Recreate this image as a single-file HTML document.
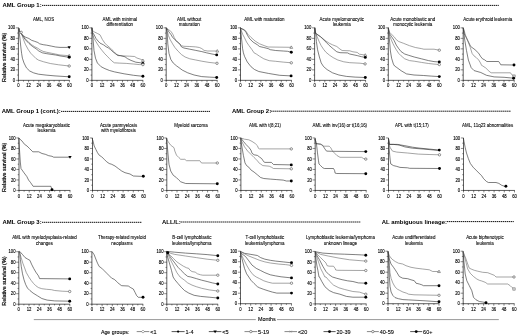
<!DOCTYPE html><html><head><meta charset="utf-8"><style>html,body{margin:0;padding:0;background:#fff;overflow:hidden;}svg{display:block;filter:grayscale(100%);}</style></head><body>
<svg width="520" height="336" viewBox="0 0 520 336" font-family='"Liberation Sans", sans-serif' fill="#000">
<rect width="520" height="336" fill="#fff"/>
<text x="2.5" y="7.3" font-size="5.95" font-weight="bold">AML Group 1:</text>
<line x1="42.0" y1="5.4" x2="498.8" y2="5.4" stroke="#000" stroke-width="0.95" stroke-dasharray="1.4,0.6"/>
<text x="1.8" y="113.4" font-size="5.95" font-weight="bold">AML Group 1 (cont.):</text>
<line x1="61.0" y1="111.4" x2="210.0" y2="111.4" stroke="#000" stroke-width="0.95" stroke-dasharray="1.4,0.6"/>
<text x="232.0" y="113.4" font-size="5.95" font-weight="bold">AML Group 2:</text>
<line x1="270.5" y1="111.2" x2="511.0" y2="111.2" stroke="#000" stroke-width="0.95" stroke-dasharray="1.4,0.6"/>
<text x="2.5" y="223.8" font-size="5.95" font-weight="bold">AML Group 3:</text>
<line x1="42.0" y1="222.3" x2="141.5" y2="222.3" stroke="#000" stroke-width="0.95" stroke-dasharray="1.4,0.6"/>
<text x="162.0" y="224.0" font-size="5.95" font-weight="bold">ALL/L:</text>
<line x1="180.5" y1="222.0" x2="360.8" y2="222.0" stroke="#000" stroke-width="0.95" stroke-dasharray="1.4,0.6"/>
<text x="381.8" y="223.8" font-size="5.95" font-weight="bold">AL ambiguous lineage:</text>
<line x1="447.0" y1="221.6" x2="513.8" y2="221.6" stroke="#000" stroke-width="0.95" stroke-dasharray="1.4,0.6"/>
<text x="43.5" y="20.60" font-size="4.45" text-anchor="middle" stroke="#000" stroke-width="0.08">AML, NOS</text>
<text x="119.8" y="20.60" font-size="4.45" text-anchor="middle" stroke="#000" stroke-width="0.08">AML with minimal</text>
<text x="119.8" y="25.90" font-size="4.45" text-anchor="middle" stroke="#000" stroke-width="0.08">differentiation</text>
<text x="189.2" y="20.60" font-size="4.45" text-anchor="middle" stroke="#000" stroke-width="0.08">AML without</text>
<text x="189.2" y="25.90" font-size="4.45" text-anchor="middle" stroke="#000" stroke-width="0.08">maturation</text>
<text x="264.4" y="20.60" font-size="4.45" text-anchor="middle" stroke="#000" stroke-width="0.08">AML with maturation</text>
<text x="341.8" y="20.60" font-size="4.45" text-anchor="middle" stroke="#000" stroke-width="0.08">Acute myelomonocytic</text>
<text x="341.8" y="25.90" font-size="4.45" text-anchor="middle" stroke="#000" stroke-width="0.08">leukemia</text>
<text x="412.8" y="20.60" font-size="4.45" text-anchor="middle" stroke="#000" stroke-width="0.08">Acute monoblastic and</text>
<text x="412.8" y="25.90" font-size="4.45" text-anchor="middle" stroke="#000" stroke-width="0.08">monocytic leukemia</text>
<text x="487.7" y="20.60" font-size="4.45" text-anchor="middle" stroke="#000" stroke-width="0.08">Acute erythroid leukemia</text>
<text x="46.5" y="126.60" font-size="4.45" text-anchor="middle" stroke="#000" stroke-width="0.08">Acute megakaryoblastic</text>
<text x="46.5" y="131.90" font-size="4.45" text-anchor="middle" stroke="#000" stroke-width="0.08">leukemia</text>
<text x="118.5" y="126.60" font-size="4.45" text-anchor="middle" stroke="#000" stroke-width="0.08">Acute panmyelosis</text>
<text x="118.5" y="131.90" font-size="4.45" text-anchor="middle" stroke="#000" stroke-width="0.08">with myelofibrosis</text>
<text x="190.9" y="126.60" font-size="4.45" text-anchor="middle" stroke="#000" stroke-width="0.08">Myeloid sarcoma</text>
<text x="265" y="126.60" font-size="4.45" text-anchor="middle" stroke="#000" stroke-width="0.08">AML with t(8;21)</text>
<text x="339.8" y="126.60" font-size="4.45" text-anchor="middle" stroke="#000" stroke-width="0.08">AML with inv(16) or t(16;16)</text>
<text x="411.9" y="126.60" font-size="4.45" text-anchor="middle" stroke="#000" stroke-width="0.08">APL with t(15;17)</text>
<text x="487.6" y="126.60" font-size="4.45" text-anchor="middle" stroke="#000" stroke-width="0.08">AML, 11q23 abnormalities</text>
<text x="44.5" y="239.20" font-size="4.45" text-anchor="middle" stroke="#000" stroke-width="0.08">AML with myelodysplasia-related</text>
<text x="44.5" y="244.50" font-size="4.45" text-anchor="middle" stroke="#000" stroke-width="0.08">changes</text>
<text x="122" y="239.20" font-size="4.45" text-anchor="middle" stroke="#000" stroke-width="0.08">Therapy-related myeloid</text>
<text x="122" y="244.50" font-size="4.45" text-anchor="middle" stroke="#000" stroke-width="0.08">neoplasms</text>
<text x="191.8" y="239.20" font-size="4.45" text-anchor="middle" stroke="#000" stroke-width="0.08">B-cell lymphoblastic</text>
<text x="191.8" y="244.50" font-size="4.45" text-anchor="middle" stroke="#000" stroke-width="0.08">leukemia/lymphoma</text>
<text x="264.8" y="239.20" font-size="4.45" text-anchor="middle" stroke="#000" stroke-width="0.08">T-cell lymphoblastic</text>
<text x="264.8" y="244.50" font-size="4.45" text-anchor="middle" stroke="#000" stroke-width="0.08">leukemia/lymphoma</text>
<text x="340.5" y="239.20" font-size="4.45" text-anchor="middle" stroke="#000" stroke-width="0.08">Lymphoblastic leukemia/lymphoma</text>
<text x="340.5" y="244.50" font-size="4.45" text-anchor="middle" stroke="#000" stroke-width="0.08">unknown lineage</text>
<text x="413.9" y="239.20" font-size="4.45" text-anchor="middle" stroke="#000" stroke-width="0.08">Acute undifferentiated</text>
<text x="413.9" y="244.50" font-size="4.45" text-anchor="middle" stroke="#000" stroke-width="0.08">leukemia</text>
<text x="484.9" y="239.20" font-size="4.45" text-anchor="middle" stroke="#000" stroke-width="0.08">Acute biphenotypic</text>
<text x="484.9" y="244.50" font-size="4.45" text-anchor="middle" stroke="#000" stroke-width="0.08">leukemia</text>
<text transform="translate(5.7,57.3) rotate(-90) scale(0.95,1)" font-size="5.7" text-anchor="middle" stroke="#000" stroke-width="0.2">Relative survival (%)</text>
<text transform="translate(5.7,167.3) rotate(-90) scale(0.95,1)" font-size="5.7" text-anchor="middle" stroke="#000" stroke-width="0.2">Relative survival (%)</text>
<text transform="translate(5.7,281.1) rotate(-90) scale(0.95,1)" font-size="5.7" text-anchor="middle" stroke="#000" stroke-width="0.2">Relative survival (%)</text>
<line x1="18.40" y1="27.85" x2="18.40" y2="80.85" stroke="#1a1a1a" stroke-width="0.7"/>
<line x1="18.10" y1="80.35" x2="69.70" y2="80.35" stroke="#1a1a1a" stroke-width="0.7"/>
<line x1="15.80" y1="80.35" x2="18.40" y2="80.35" stroke="#1a1a1a" stroke-width="0.5"/>
<text transform="translate(15.10,81.95) scale(0.9,1)" font-size="4.7" text-anchor="end" stroke="#000" stroke-width="0.12">0</text>
<line x1="17.10" y1="75.10" x2="18.40" y2="75.10" stroke="#1a1a1a" stroke-width="0.5"/>
<line x1="15.80" y1="69.85" x2="18.40" y2="69.85" stroke="#1a1a1a" stroke-width="0.5"/>
<text transform="translate(15.10,71.45) scale(0.9,1)" font-size="4.7" text-anchor="end" stroke="#000" stroke-width="0.12">20</text>
<line x1="17.10" y1="64.60" x2="18.40" y2="64.60" stroke="#1a1a1a" stroke-width="0.5"/>
<line x1="15.80" y1="59.35" x2="18.40" y2="59.35" stroke="#1a1a1a" stroke-width="0.5"/>
<text transform="translate(15.10,60.95) scale(0.9,1)" font-size="4.7" text-anchor="end" stroke="#000" stroke-width="0.12">40</text>
<line x1="17.10" y1="54.10" x2="18.40" y2="54.10" stroke="#1a1a1a" stroke-width="0.5"/>
<line x1="15.80" y1="48.85" x2="18.40" y2="48.85" stroke="#1a1a1a" stroke-width="0.5"/>
<text transform="translate(15.10,50.45) scale(0.9,1)" font-size="4.7" text-anchor="end" stroke="#000" stroke-width="0.12">60</text>
<line x1="17.10" y1="43.60" x2="18.40" y2="43.60" stroke="#1a1a1a" stroke-width="0.5"/>
<line x1="15.80" y1="38.35" x2="18.40" y2="38.35" stroke="#1a1a1a" stroke-width="0.5"/>
<text transform="translate(15.10,39.95) scale(0.9,1)" font-size="4.7" text-anchor="end" stroke="#000" stroke-width="0.12">80</text>
<line x1="17.10" y1="33.10" x2="18.40" y2="33.10" stroke="#1a1a1a" stroke-width="0.5"/>
<line x1="15.80" y1="27.85" x2="18.40" y2="27.85" stroke="#1a1a1a" stroke-width="0.5"/>
<text transform="translate(15.10,29.45) scale(0.9,1)" font-size="4.7" text-anchor="end" stroke="#000" stroke-width="0.12">100</text>
<line x1="18.40" y1="80.35" x2="18.40" y2="82.35" stroke="#1a1a1a" stroke-width="0.55"/>
<text transform="translate(18.40,87.45) scale(0.9,1)" font-size="4.7" text-anchor="middle" stroke="#000" stroke-width="0.12">0</text>
<line x1="23.50" y1="80.35" x2="23.50" y2="81.55" stroke="#1a1a1a" stroke-width="0.55"/>
<line x1="28.60" y1="80.35" x2="28.60" y2="82.35" stroke="#1a1a1a" stroke-width="0.55"/>
<text transform="translate(28.60,87.45) scale(0.9,1)" font-size="4.7" text-anchor="middle" stroke="#000" stroke-width="0.12">12</text>
<line x1="33.70" y1="80.35" x2="33.70" y2="81.55" stroke="#1a1a1a" stroke-width="0.55"/>
<line x1="38.80" y1="80.35" x2="38.80" y2="82.35" stroke="#1a1a1a" stroke-width="0.55"/>
<text transform="translate(38.80,87.45) scale(0.9,1)" font-size="4.7" text-anchor="middle" stroke="#000" stroke-width="0.12">24</text>
<line x1="43.90" y1="80.35" x2="43.90" y2="81.55" stroke="#1a1a1a" stroke-width="0.55"/>
<line x1="49.00" y1="80.35" x2="49.00" y2="82.35" stroke="#1a1a1a" stroke-width="0.55"/>
<text transform="translate(49.00,87.45) scale(0.9,1)" font-size="4.7" text-anchor="middle" stroke="#000" stroke-width="0.12">36</text>
<line x1="54.10" y1="80.35" x2="54.10" y2="81.55" stroke="#1a1a1a" stroke-width="0.55"/>
<line x1="59.20" y1="80.35" x2="59.20" y2="82.35" stroke="#1a1a1a" stroke-width="0.55"/>
<text transform="translate(59.20,87.45) scale(0.9,1)" font-size="4.7" text-anchor="middle" stroke="#000" stroke-width="0.12">48</text>
<line x1="64.30" y1="80.35" x2="64.30" y2="81.55" stroke="#1a1a1a" stroke-width="0.55"/>
<line x1="69.40" y1="80.35" x2="69.40" y2="82.35" stroke="#1a1a1a" stroke-width="0.55"/>
<text transform="translate(69.40,87.45) scale(0.9,1)" font-size="4.7" text-anchor="middle" stroke="#000" stroke-width="0.12">60</text>
<line x1="91.90" y1="27.85" x2="91.90" y2="80.85" stroke="#1a1a1a" stroke-width="0.7"/>
<line x1="91.60" y1="80.35" x2="143.20" y2="80.35" stroke="#1a1a1a" stroke-width="0.7"/>
<line x1="89.30" y1="80.35" x2="91.90" y2="80.35" stroke="#1a1a1a" stroke-width="0.5"/>
<text transform="translate(88.60,81.95) scale(0.9,1)" font-size="4.7" text-anchor="end" stroke="#000" stroke-width="0.12">0</text>
<line x1="90.60" y1="75.10" x2="91.90" y2="75.10" stroke="#1a1a1a" stroke-width="0.5"/>
<line x1="89.30" y1="69.85" x2="91.90" y2="69.85" stroke="#1a1a1a" stroke-width="0.5"/>
<text transform="translate(88.60,71.45) scale(0.9,1)" font-size="4.7" text-anchor="end" stroke="#000" stroke-width="0.12">20</text>
<line x1="90.60" y1="64.60" x2="91.90" y2="64.60" stroke="#1a1a1a" stroke-width="0.5"/>
<line x1="89.30" y1="59.35" x2="91.90" y2="59.35" stroke="#1a1a1a" stroke-width="0.5"/>
<text transform="translate(88.60,60.95) scale(0.9,1)" font-size="4.7" text-anchor="end" stroke="#000" stroke-width="0.12">40</text>
<line x1="90.60" y1="54.10" x2="91.90" y2="54.10" stroke="#1a1a1a" stroke-width="0.5"/>
<line x1="89.30" y1="48.85" x2="91.90" y2="48.85" stroke="#1a1a1a" stroke-width="0.5"/>
<text transform="translate(88.60,50.45) scale(0.9,1)" font-size="4.7" text-anchor="end" stroke="#000" stroke-width="0.12">60</text>
<line x1="90.60" y1="43.60" x2="91.90" y2="43.60" stroke="#1a1a1a" stroke-width="0.5"/>
<line x1="89.30" y1="38.35" x2="91.90" y2="38.35" stroke="#1a1a1a" stroke-width="0.5"/>
<text transform="translate(88.60,39.95) scale(0.9,1)" font-size="4.7" text-anchor="end" stroke="#000" stroke-width="0.12">80</text>
<line x1="90.60" y1="33.10" x2="91.90" y2="33.10" stroke="#1a1a1a" stroke-width="0.5"/>
<line x1="89.30" y1="27.85" x2="91.90" y2="27.85" stroke="#1a1a1a" stroke-width="0.5"/>
<text transform="translate(88.60,29.45) scale(0.9,1)" font-size="4.7" text-anchor="end" stroke="#000" stroke-width="0.12">100</text>
<line x1="91.90" y1="80.35" x2="91.90" y2="82.35" stroke="#1a1a1a" stroke-width="0.55"/>
<text transform="translate(91.90,87.45) scale(0.9,1)" font-size="4.7" text-anchor="middle" stroke="#000" stroke-width="0.12">0</text>
<line x1="97.00" y1="80.35" x2="97.00" y2="81.55" stroke="#1a1a1a" stroke-width="0.55"/>
<line x1="102.10" y1="80.35" x2="102.10" y2="82.35" stroke="#1a1a1a" stroke-width="0.55"/>
<text transform="translate(102.10,87.45) scale(0.9,1)" font-size="4.7" text-anchor="middle" stroke="#000" stroke-width="0.12">12</text>
<line x1="107.20" y1="80.35" x2="107.20" y2="81.55" stroke="#1a1a1a" stroke-width="0.55"/>
<line x1="112.30" y1="80.35" x2="112.30" y2="82.35" stroke="#1a1a1a" stroke-width="0.55"/>
<text transform="translate(112.30,87.45) scale(0.9,1)" font-size="4.7" text-anchor="middle" stroke="#000" stroke-width="0.12">24</text>
<line x1="117.40" y1="80.35" x2="117.40" y2="81.55" stroke="#1a1a1a" stroke-width="0.55"/>
<line x1="122.50" y1="80.35" x2="122.50" y2="82.35" stroke="#1a1a1a" stroke-width="0.55"/>
<text transform="translate(122.50,87.45) scale(0.9,1)" font-size="4.7" text-anchor="middle" stroke="#000" stroke-width="0.12">36</text>
<line x1="127.60" y1="80.35" x2="127.60" y2="81.55" stroke="#1a1a1a" stroke-width="0.55"/>
<line x1="132.70" y1="80.35" x2="132.70" y2="82.35" stroke="#1a1a1a" stroke-width="0.55"/>
<text transform="translate(132.70,87.45) scale(0.9,1)" font-size="4.7" text-anchor="middle" stroke="#000" stroke-width="0.12">48</text>
<line x1="137.80" y1="80.35" x2="137.80" y2="81.55" stroke="#1a1a1a" stroke-width="0.55"/>
<line x1="142.90" y1="80.35" x2="142.90" y2="82.35" stroke="#1a1a1a" stroke-width="0.55"/>
<text transform="translate(142.90,87.45) scale(0.9,1)" font-size="4.7" text-anchor="middle" stroke="#000" stroke-width="0.12">60</text>
<line x1="166.20" y1="27.85" x2="166.20" y2="80.85" stroke="#1a1a1a" stroke-width="0.7"/>
<line x1="165.90" y1="80.35" x2="217.50" y2="80.35" stroke="#1a1a1a" stroke-width="0.7"/>
<line x1="163.60" y1="80.35" x2="166.20" y2="80.35" stroke="#1a1a1a" stroke-width="0.5"/>
<text transform="translate(162.90,81.95) scale(0.9,1)" font-size="4.7" text-anchor="end" stroke="#000" stroke-width="0.12">0</text>
<line x1="164.90" y1="75.10" x2="166.20" y2="75.10" stroke="#1a1a1a" stroke-width="0.5"/>
<line x1="163.60" y1="69.85" x2="166.20" y2="69.85" stroke="#1a1a1a" stroke-width="0.5"/>
<text transform="translate(162.90,71.45) scale(0.9,1)" font-size="4.7" text-anchor="end" stroke="#000" stroke-width="0.12">20</text>
<line x1="164.90" y1="64.60" x2="166.20" y2="64.60" stroke="#1a1a1a" stroke-width="0.5"/>
<line x1="163.60" y1="59.35" x2="166.20" y2="59.35" stroke="#1a1a1a" stroke-width="0.5"/>
<text transform="translate(162.90,60.95) scale(0.9,1)" font-size="4.7" text-anchor="end" stroke="#000" stroke-width="0.12">40</text>
<line x1="164.90" y1="54.10" x2="166.20" y2="54.10" stroke="#1a1a1a" stroke-width="0.5"/>
<line x1="163.60" y1="48.85" x2="166.20" y2="48.85" stroke="#1a1a1a" stroke-width="0.5"/>
<text transform="translate(162.90,50.45) scale(0.9,1)" font-size="4.7" text-anchor="end" stroke="#000" stroke-width="0.12">60</text>
<line x1="164.90" y1="43.60" x2="166.20" y2="43.60" stroke="#1a1a1a" stroke-width="0.5"/>
<line x1="163.60" y1="38.35" x2="166.20" y2="38.35" stroke="#1a1a1a" stroke-width="0.5"/>
<text transform="translate(162.90,39.95) scale(0.9,1)" font-size="4.7" text-anchor="end" stroke="#000" stroke-width="0.12">80</text>
<line x1="164.90" y1="33.10" x2="166.20" y2="33.10" stroke="#1a1a1a" stroke-width="0.5"/>
<line x1="163.60" y1="27.85" x2="166.20" y2="27.85" stroke="#1a1a1a" stroke-width="0.5"/>
<text transform="translate(162.90,29.45) scale(0.9,1)" font-size="4.7" text-anchor="end" stroke="#000" stroke-width="0.12">100</text>
<line x1="166.20" y1="80.35" x2="166.20" y2="82.35" stroke="#1a1a1a" stroke-width="0.55"/>
<text transform="translate(166.20,87.45) scale(0.9,1)" font-size="4.7" text-anchor="middle" stroke="#000" stroke-width="0.12">0</text>
<line x1="171.30" y1="80.35" x2="171.30" y2="81.55" stroke="#1a1a1a" stroke-width="0.55"/>
<line x1="176.40" y1="80.35" x2="176.40" y2="82.35" stroke="#1a1a1a" stroke-width="0.55"/>
<text transform="translate(176.40,87.45) scale(0.9,1)" font-size="4.7" text-anchor="middle" stroke="#000" stroke-width="0.12">12</text>
<line x1="181.50" y1="80.35" x2="181.50" y2="81.55" stroke="#1a1a1a" stroke-width="0.55"/>
<line x1="186.60" y1="80.35" x2="186.60" y2="82.35" stroke="#1a1a1a" stroke-width="0.55"/>
<text transform="translate(186.60,87.45) scale(0.9,1)" font-size="4.7" text-anchor="middle" stroke="#000" stroke-width="0.12">24</text>
<line x1="191.70" y1="80.35" x2="191.70" y2="81.55" stroke="#1a1a1a" stroke-width="0.55"/>
<line x1="196.80" y1="80.35" x2="196.80" y2="82.35" stroke="#1a1a1a" stroke-width="0.55"/>
<text transform="translate(196.80,87.45) scale(0.9,1)" font-size="4.7" text-anchor="middle" stroke="#000" stroke-width="0.12">36</text>
<line x1="201.90" y1="80.35" x2="201.90" y2="81.55" stroke="#1a1a1a" stroke-width="0.55"/>
<line x1="207.00" y1="80.35" x2="207.00" y2="82.35" stroke="#1a1a1a" stroke-width="0.55"/>
<text transform="translate(207.00,87.45) scale(0.9,1)" font-size="4.7" text-anchor="middle" stroke="#000" stroke-width="0.12">48</text>
<line x1="212.10" y1="80.35" x2="212.10" y2="81.55" stroke="#1a1a1a" stroke-width="0.55"/>
<line x1="217.20" y1="80.35" x2="217.20" y2="82.35" stroke="#1a1a1a" stroke-width="0.55"/>
<text transform="translate(217.20,87.45) scale(0.9,1)" font-size="4.7" text-anchor="middle" stroke="#000" stroke-width="0.12">60</text>
<line x1="240.50" y1="27.85" x2="240.50" y2="80.85" stroke="#1a1a1a" stroke-width="0.7"/>
<line x1="240.20" y1="80.35" x2="291.80" y2="80.35" stroke="#1a1a1a" stroke-width="0.7"/>
<line x1="237.90" y1="80.35" x2="240.50" y2="80.35" stroke="#1a1a1a" stroke-width="0.5"/>
<text transform="translate(237.20,81.95) scale(0.9,1)" font-size="4.7" text-anchor="end" stroke="#000" stroke-width="0.12">0</text>
<line x1="239.20" y1="75.10" x2="240.50" y2="75.10" stroke="#1a1a1a" stroke-width="0.5"/>
<line x1="237.90" y1="69.85" x2="240.50" y2="69.85" stroke="#1a1a1a" stroke-width="0.5"/>
<text transform="translate(237.20,71.45) scale(0.9,1)" font-size="4.7" text-anchor="end" stroke="#000" stroke-width="0.12">20</text>
<line x1="239.20" y1="64.60" x2="240.50" y2="64.60" stroke="#1a1a1a" stroke-width="0.5"/>
<line x1="237.90" y1="59.35" x2="240.50" y2="59.35" stroke="#1a1a1a" stroke-width="0.5"/>
<text transform="translate(237.20,60.95) scale(0.9,1)" font-size="4.7" text-anchor="end" stroke="#000" stroke-width="0.12">40</text>
<line x1="239.20" y1="54.10" x2="240.50" y2="54.10" stroke="#1a1a1a" stroke-width="0.5"/>
<line x1="237.90" y1="48.85" x2="240.50" y2="48.85" stroke="#1a1a1a" stroke-width="0.5"/>
<text transform="translate(237.20,50.45) scale(0.9,1)" font-size="4.7" text-anchor="end" stroke="#000" stroke-width="0.12">60</text>
<line x1="239.20" y1="43.60" x2="240.50" y2="43.60" stroke="#1a1a1a" stroke-width="0.5"/>
<line x1="237.90" y1="38.35" x2="240.50" y2="38.35" stroke="#1a1a1a" stroke-width="0.5"/>
<text transform="translate(237.20,39.95) scale(0.9,1)" font-size="4.7" text-anchor="end" stroke="#000" stroke-width="0.12">80</text>
<line x1="239.20" y1="33.10" x2="240.50" y2="33.10" stroke="#1a1a1a" stroke-width="0.5"/>
<line x1="237.90" y1="27.85" x2="240.50" y2="27.85" stroke="#1a1a1a" stroke-width="0.5"/>
<text transform="translate(237.20,29.45) scale(0.9,1)" font-size="4.7" text-anchor="end" stroke="#000" stroke-width="0.12">100</text>
<line x1="240.50" y1="80.35" x2="240.50" y2="82.35" stroke="#1a1a1a" stroke-width="0.55"/>
<text transform="translate(240.50,87.45) scale(0.9,1)" font-size="4.7" text-anchor="middle" stroke="#000" stroke-width="0.12">0</text>
<line x1="245.60" y1="80.35" x2="245.60" y2="81.55" stroke="#1a1a1a" stroke-width="0.55"/>
<line x1="250.70" y1="80.35" x2="250.70" y2="82.35" stroke="#1a1a1a" stroke-width="0.55"/>
<text transform="translate(250.70,87.45) scale(0.9,1)" font-size="4.7" text-anchor="middle" stroke="#000" stroke-width="0.12">12</text>
<line x1="255.80" y1="80.35" x2="255.80" y2="81.55" stroke="#1a1a1a" stroke-width="0.55"/>
<line x1="260.90" y1="80.35" x2="260.90" y2="82.35" stroke="#1a1a1a" stroke-width="0.55"/>
<text transform="translate(260.90,87.45) scale(0.9,1)" font-size="4.7" text-anchor="middle" stroke="#000" stroke-width="0.12">24</text>
<line x1="266.00" y1="80.35" x2="266.00" y2="81.55" stroke="#1a1a1a" stroke-width="0.55"/>
<line x1="271.10" y1="80.35" x2="271.10" y2="82.35" stroke="#1a1a1a" stroke-width="0.55"/>
<text transform="translate(271.10,87.45) scale(0.9,1)" font-size="4.7" text-anchor="middle" stroke="#000" stroke-width="0.12">36</text>
<line x1="276.20" y1="80.35" x2="276.20" y2="81.55" stroke="#1a1a1a" stroke-width="0.55"/>
<line x1="281.30" y1="80.35" x2="281.30" y2="82.35" stroke="#1a1a1a" stroke-width="0.55"/>
<text transform="translate(281.30,87.45) scale(0.9,1)" font-size="4.7" text-anchor="middle" stroke="#000" stroke-width="0.12">48</text>
<line x1="286.40" y1="80.35" x2="286.40" y2="81.55" stroke="#1a1a1a" stroke-width="0.55"/>
<line x1="291.50" y1="80.35" x2="291.50" y2="82.35" stroke="#1a1a1a" stroke-width="0.55"/>
<text transform="translate(291.50,87.45) scale(0.9,1)" font-size="4.7" text-anchor="middle" stroke="#000" stroke-width="0.12">60</text>
<line x1="314.60" y1="27.85" x2="314.60" y2="80.85" stroke="#1a1a1a" stroke-width="0.7"/>
<line x1="314.30" y1="80.35" x2="365.90" y2="80.35" stroke="#1a1a1a" stroke-width="0.7"/>
<line x1="312.00" y1="80.35" x2="314.60" y2="80.35" stroke="#1a1a1a" stroke-width="0.5"/>
<text transform="translate(311.30,81.95) scale(0.9,1)" font-size="4.7" text-anchor="end" stroke="#000" stroke-width="0.12">0</text>
<line x1="313.30" y1="75.10" x2="314.60" y2="75.10" stroke="#1a1a1a" stroke-width="0.5"/>
<line x1="312.00" y1="69.85" x2="314.60" y2="69.85" stroke="#1a1a1a" stroke-width="0.5"/>
<text transform="translate(311.30,71.45) scale(0.9,1)" font-size="4.7" text-anchor="end" stroke="#000" stroke-width="0.12">20</text>
<line x1="313.30" y1="64.60" x2="314.60" y2="64.60" stroke="#1a1a1a" stroke-width="0.5"/>
<line x1="312.00" y1="59.35" x2="314.60" y2="59.35" stroke="#1a1a1a" stroke-width="0.5"/>
<text transform="translate(311.30,60.95) scale(0.9,1)" font-size="4.7" text-anchor="end" stroke="#000" stroke-width="0.12">40</text>
<line x1="313.30" y1="54.10" x2="314.60" y2="54.10" stroke="#1a1a1a" stroke-width="0.5"/>
<line x1="312.00" y1="48.85" x2="314.60" y2="48.85" stroke="#1a1a1a" stroke-width="0.5"/>
<text transform="translate(311.30,50.45) scale(0.9,1)" font-size="4.7" text-anchor="end" stroke="#000" stroke-width="0.12">60</text>
<line x1="313.30" y1="43.60" x2="314.60" y2="43.60" stroke="#1a1a1a" stroke-width="0.5"/>
<line x1="312.00" y1="38.35" x2="314.60" y2="38.35" stroke="#1a1a1a" stroke-width="0.5"/>
<text transform="translate(311.30,39.95) scale(0.9,1)" font-size="4.7" text-anchor="end" stroke="#000" stroke-width="0.12">80</text>
<line x1="313.30" y1="33.10" x2="314.60" y2="33.10" stroke="#1a1a1a" stroke-width="0.5"/>
<line x1="312.00" y1="27.85" x2="314.60" y2="27.85" stroke="#1a1a1a" stroke-width="0.5"/>
<text transform="translate(311.30,29.45) scale(0.9,1)" font-size="4.7" text-anchor="end" stroke="#000" stroke-width="0.12">100</text>
<line x1="314.60" y1="80.35" x2="314.60" y2="82.35" stroke="#1a1a1a" stroke-width="0.55"/>
<text transform="translate(314.60,87.45) scale(0.9,1)" font-size="4.7" text-anchor="middle" stroke="#000" stroke-width="0.12">0</text>
<line x1="319.70" y1="80.35" x2="319.70" y2="81.55" stroke="#1a1a1a" stroke-width="0.55"/>
<line x1="324.80" y1="80.35" x2="324.80" y2="82.35" stroke="#1a1a1a" stroke-width="0.55"/>
<text transform="translate(324.80,87.45) scale(0.9,1)" font-size="4.7" text-anchor="middle" stroke="#000" stroke-width="0.12">12</text>
<line x1="329.90" y1="80.35" x2="329.90" y2="81.55" stroke="#1a1a1a" stroke-width="0.55"/>
<line x1="335.00" y1="80.35" x2="335.00" y2="82.35" stroke="#1a1a1a" stroke-width="0.55"/>
<text transform="translate(335.00,87.45) scale(0.9,1)" font-size="4.7" text-anchor="middle" stroke="#000" stroke-width="0.12">24</text>
<line x1="340.10" y1="80.35" x2="340.10" y2="81.55" stroke="#1a1a1a" stroke-width="0.55"/>
<line x1="345.20" y1="80.35" x2="345.20" y2="82.35" stroke="#1a1a1a" stroke-width="0.55"/>
<text transform="translate(345.20,87.45) scale(0.9,1)" font-size="4.7" text-anchor="middle" stroke="#000" stroke-width="0.12">36</text>
<line x1="350.30" y1="80.35" x2="350.30" y2="81.55" stroke="#1a1a1a" stroke-width="0.55"/>
<line x1="355.40" y1="80.35" x2="355.40" y2="82.35" stroke="#1a1a1a" stroke-width="0.55"/>
<text transform="translate(355.40,87.45) scale(0.9,1)" font-size="4.7" text-anchor="middle" stroke="#000" stroke-width="0.12">48</text>
<line x1="360.50" y1="80.35" x2="360.50" y2="81.55" stroke="#1a1a1a" stroke-width="0.55"/>
<line x1="365.60" y1="80.35" x2="365.60" y2="82.35" stroke="#1a1a1a" stroke-width="0.55"/>
<text transform="translate(365.60,87.45) scale(0.9,1)" font-size="4.7" text-anchor="middle" stroke="#000" stroke-width="0.12">60</text>
<line x1="388.30" y1="27.85" x2="388.30" y2="80.85" stroke="#1a1a1a" stroke-width="0.7"/>
<line x1="388.00" y1="80.35" x2="439.60" y2="80.35" stroke="#1a1a1a" stroke-width="0.7"/>
<line x1="385.70" y1="80.35" x2="388.30" y2="80.35" stroke="#1a1a1a" stroke-width="0.5"/>
<text transform="translate(385.00,81.95) scale(0.9,1)" font-size="4.7" text-anchor="end" stroke="#000" stroke-width="0.12">0</text>
<line x1="387.00" y1="75.10" x2="388.30" y2="75.10" stroke="#1a1a1a" stroke-width="0.5"/>
<line x1="385.70" y1="69.85" x2="388.30" y2="69.85" stroke="#1a1a1a" stroke-width="0.5"/>
<text transform="translate(385.00,71.45) scale(0.9,1)" font-size="4.7" text-anchor="end" stroke="#000" stroke-width="0.12">20</text>
<line x1="387.00" y1="64.60" x2="388.30" y2="64.60" stroke="#1a1a1a" stroke-width="0.5"/>
<line x1="385.70" y1="59.35" x2="388.30" y2="59.35" stroke="#1a1a1a" stroke-width="0.5"/>
<text transform="translate(385.00,60.95) scale(0.9,1)" font-size="4.7" text-anchor="end" stroke="#000" stroke-width="0.12">40</text>
<line x1="387.00" y1="54.10" x2="388.30" y2="54.10" stroke="#1a1a1a" stroke-width="0.5"/>
<line x1="385.70" y1="48.85" x2="388.30" y2="48.85" stroke="#1a1a1a" stroke-width="0.5"/>
<text transform="translate(385.00,50.45) scale(0.9,1)" font-size="4.7" text-anchor="end" stroke="#000" stroke-width="0.12">60</text>
<line x1="387.00" y1="43.60" x2="388.30" y2="43.60" stroke="#1a1a1a" stroke-width="0.5"/>
<line x1="385.70" y1="38.35" x2="388.30" y2="38.35" stroke="#1a1a1a" stroke-width="0.5"/>
<text transform="translate(385.00,39.95) scale(0.9,1)" font-size="4.7" text-anchor="end" stroke="#000" stroke-width="0.12">80</text>
<line x1="387.00" y1="33.10" x2="388.30" y2="33.10" stroke="#1a1a1a" stroke-width="0.5"/>
<line x1="385.70" y1="27.85" x2="388.30" y2="27.85" stroke="#1a1a1a" stroke-width="0.5"/>
<text transform="translate(385.00,29.45) scale(0.9,1)" font-size="4.7" text-anchor="end" stroke="#000" stroke-width="0.12">100</text>
<line x1="388.30" y1="80.35" x2="388.30" y2="82.35" stroke="#1a1a1a" stroke-width="0.55"/>
<text transform="translate(388.30,87.45) scale(0.9,1)" font-size="4.7" text-anchor="middle" stroke="#000" stroke-width="0.12">0</text>
<line x1="393.40" y1="80.35" x2="393.40" y2="81.55" stroke="#1a1a1a" stroke-width="0.55"/>
<line x1="398.50" y1="80.35" x2="398.50" y2="82.35" stroke="#1a1a1a" stroke-width="0.55"/>
<text transform="translate(398.50,87.45) scale(0.9,1)" font-size="4.7" text-anchor="middle" stroke="#000" stroke-width="0.12">12</text>
<line x1="403.60" y1="80.35" x2="403.60" y2="81.55" stroke="#1a1a1a" stroke-width="0.55"/>
<line x1="408.70" y1="80.35" x2="408.70" y2="82.35" stroke="#1a1a1a" stroke-width="0.55"/>
<text transform="translate(408.70,87.45) scale(0.9,1)" font-size="4.7" text-anchor="middle" stroke="#000" stroke-width="0.12">24</text>
<line x1="413.80" y1="80.35" x2="413.80" y2="81.55" stroke="#1a1a1a" stroke-width="0.55"/>
<line x1="418.90" y1="80.35" x2="418.90" y2="82.35" stroke="#1a1a1a" stroke-width="0.55"/>
<text transform="translate(418.90,87.45) scale(0.9,1)" font-size="4.7" text-anchor="middle" stroke="#000" stroke-width="0.12">36</text>
<line x1="424.00" y1="80.35" x2="424.00" y2="81.55" stroke="#1a1a1a" stroke-width="0.55"/>
<line x1="429.10" y1="80.35" x2="429.10" y2="82.35" stroke="#1a1a1a" stroke-width="0.55"/>
<text transform="translate(429.10,87.45) scale(0.9,1)" font-size="4.7" text-anchor="middle" stroke="#000" stroke-width="0.12">48</text>
<line x1="434.20" y1="80.35" x2="434.20" y2="81.55" stroke="#1a1a1a" stroke-width="0.55"/>
<line x1="439.30" y1="80.35" x2="439.30" y2="82.35" stroke="#1a1a1a" stroke-width="0.55"/>
<text transform="translate(439.30,87.45) scale(0.9,1)" font-size="4.7" text-anchor="middle" stroke="#000" stroke-width="0.12">60</text>
<line x1="463.20" y1="27.85" x2="463.20" y2="80.85" stroke="#1a1a1a" stroke-width="0.7"/>
<line x1="462.90" y1="80.35" x2="514.50" y2="80.35" stroke="#1a1a1a" stroke-width="0.7"/>
<line x1="460.60" y1="80.35" x2="463.20" y2="80.35" stroke="#1a1a1a" stroke-width="0.5"/>
<text transform="translate(459.90,81.95) scale(0.9,1)" font-size="4.7" text-anchor="end" stroke="#000" stroke-width="0.12">0</text>
<line x1="461.90" y1="75.10" x2="463.20" y2="75.10" stroke="#1a1a1a" stroke-width="0.5"/>
<line x1="460.60" y1="69.85" x2="463.20" y2="69.85" stroke="#1a1a1a" stroke-width="0.5"/>
<text transform="translate(459.90,71.45) scale(0.9,1)" font-size="4.7" text-anchor="end" stroke="#000" stroke-width="0.12">20</text>
<line x1="461.90" y1="64.60" x2="463.20" y2="64.60" stroke="#1a1a1a" stroke-width="0.5"/>
<line x1="460.60" y1="59.35" x2="463.20" y2="59.35" stroke="#1a1a1a" stroke-width="0.5"/>
<text transform="translate(459.90,60.95) scale(0.9,1)" font-size="4.7" text-anchor="end" stroke="#000" stroke-width="0.12">40</text>
<line x1="461.90" y1="54.10" x2="463.20" y2="54.10" stroke="#1a1a1a" stroke-width="0.5"/>
<line x1="460.60" y1="48.85" x2="463.20" y2="48.85" stroke="#1a1a1a" stroke-width="0.5"/>
<text transform="translate(459.90,50.45) scale(0.9,1)" font-size="4.7" text-anchor="end" stroke="#000" stroke-width="0.12">60</text>
<line x1="461.90" y1="43.60" x2="463.20" y2="43.60" stroke="#1a1a1a" stroke-width="0.5"/>
<line x1="460.60" y1="38.35" x2="463.20" y2="38.35" stroke="#1a1a1a" stroke-width="0.5"/>
<text transform="translate(459.90,39.95) scale(0.9,1)" font-size="4.7" text-anchor="end" stroke="#000" stroke-width="0.12">80</text>
<line x1="461.90" y1="33.10" x2="463.20" y2="33.10" stroke="#1a1a1a" stroke-width="0.5"/>
<line x1="460.60" y1="27.85" x2="463.20" y2="27.85" stroke="#1a1a1a" stroke-width="0.5"/>
<text transform="translate(459.90,29.45) scale(0.9,1)" font-size="4.7" text-anchor="end" stroke="#000" stroke-width="0.12">100</text>
<line x1="463.20" y1="80.35" x2="463.20" y2="82.35" stroke="#1a1a1a" stroke-width="0.55"/>
<text transform="translate(463.20,87.45) scale(0.9,1)" font-size="4.7" text-anchor="middle" stroke="#000" stroke-width="0.12">0</text>
<line x1="468.30" y1="80.35" x2="468.30" y2="81.55" stroke="#1a1a1a" stroke-width="0.55"/>
<line x1="473.40" y1="80.35" x2="473.40" y2="82.35" stroke="#1a1a1a" stroke-width="0.55"/>
<text transform="translate(473.40,87.45) scale(0.9,1)" font-size="4.7" text-anchor="middle" stroke="#000" stroke-width="0.12">12</text>
<line x1="478.50" y1="80.35" x2="478.50" y2="81.55" stroke="#1a1a1a" stroke-width="0.55"/>
<line x1="483.60" y1="80.35" x2="483.60" y2="82.35" stroke="#1a1a1a" stroke-width="0.55"/>
<text transform="translate(483.60,87.45) scale(0.9,1)" font-size="4.7" text-anchor="middle" stroke="#000" stroke-width="0.12">24</text>
<line x1="488.70" y1="80.35" x2="488.70" y2="81.55" stroke="#1a1a1a" stroke-width="0.55"/>
<line x1="493.80" y1="80.35" x2="493.80" y2="82.35" stroke="#1a1a1a" stroke-width="0.55"/>
<text transform="translate(493.80,87.45) scale(0.9,1)" font-size="4.7" text-anchor="middle" stroke="#000" stroke-width="0.12">36</text>
<line x1="498.90" y1="80.35" x2="498.90" y2="81.55" stroke="#1a1a1a" stroke-width="0.55"/>
<line x1="504.00" y1="80.35" x2="504.00" y2="82.35" stroke="#1a1a1a" stroke-width="0.55"/>
<text transform="translate(504.00,87.45) scale(0.9,1)" font-size="4.7" text-anchor="middle" stroke="#000" stroke-width="0.12">48</text>
<line x1="509.10" y1="80.35" x2="509.10" y2="81.55" stroke="#1a1a1a" stroke-width="0.55"/>
<line x1="514.20" y1="80.35" x2="514.20" y2="82.35" stroke="#1a1a1a" stroke-width="0.55"/>
<text transform="translate(514.20,87.45) scale(0.9,1)" font-size="4.7" text-anchor="middle" stroke="#000" stroke-width="0.12">60</text>
<line x1="19.00" y1="137.95" x2="19.00" y2="190.95" stroke="#1a1a1a" stroke-width="0.7"/>
<line x1="18.70" y1="190.45" x2="70.30" y2="190.45" stroke="#1a1a1a" stroke-width="0.7"/>
<line x1="16.40" y1="190.45" x2="19.00" y2="190.45" stroke="#1a1a1a" stroke-width="0.5"/>
<text transform="translate(15.70,192.05) scale(0.9,1)" font-size="4.7" text-anchor="end" stroke="#000" stroke-width="0.12">0</text>
<line x1="17.70" y1="185.20" x2="19.00" y2="185.20" stroke="#1a1a1a" stroke-width="0.5"/>
<line x1="16.40" y1="179.95" x2="19.00" y2="179.95" stroke="#1a1a1a" stroke-width="0.5"/>
<text transform="translate(15.70,181.55) scale(0.9,1)" font-size="4.7" text-anchor="end" stroke="#000" stroke-width="0.12">20</text>
<line x1="17.70" y1="174.70" x2="19.00" y2="174.70" stroke="#1a1a1a" stroke-width="0.5"/>
<line x1="16.40" y1="169.45" x2="19.00" y2="169.45" stroke="#1a1a1a" stroke-width="0.5"/>
<text transform="translate(15.70,171.05) scale(0.9,1)" font-size="4.7" text-anchor="end" stroke="#000" stroke-width="0.12">40</text>
<line x1="17.70" y1="164.20" x2="19.00" y2="164.20" stroke="#1a1a1a" stroke-width="0.5"/>
<line x1="16.40" y1="158.95" x2="19.00" y2="158.95" stroke="#1a1a1a" stroke-width="0.5"/>
<text transform="translate(15.70,160.55) scale(0.9,1)" font-size="4.7" text-anchor="end" stroke="#000" stroke-width="0.12">60</text>
<line x1="17.70" y1="153.70" x2="19.00" y2="153.70" stroke="#1a1a1a" stroke-width="0.5"/>
<line x1="16.40" y1="148.45" x2="19.00" y2="148.45" stroke="#1a1a1a" stroke-width="0.5"/>
<text transform="translate(15.70,150.05) scale(0.9,1)" font-size="4.7" text-anchor="end" stroke="#000" stroke-width="0.12">80</text>
<line x1="17.70" y1="143.20" x2="19.00" y2="143.20" stroke="#1a1a1a" stroke-width="0.5"/>
<line x1="16.40" y1="137.95" x2="19.00" y2="137.95" stroke="#1a1a1a" stroke-width="0.5"/>
<text transform="translate(15.70,139.55) scale(0.9,1)" font-size="4.7" text-anchor="end" stroke="#000" stroke-width="0.12">100</text>
<line x1="19.00" y1="190.45" x2="19.00" y2="192.45" stroke="#1a1a1a" stroke-width="0.55"/>
<text transform="translate(19.00,197.55) scale(0.9,1)" font-size="4.7" text-anchor="middle" stroke="#000" stroke-width="0.12">0</text>
<line x1="24.10" y1="190.45" x2="24.10" y2="191.65" stroke="#1a1a1a" stroke-width="0.55"/>
<line x1="29.20" y1="190.45" x2="29.20" y2="192.45" stroke="#1a1a1a" stroke-width="0.55"/>
<text transform="translate(29.20,197.55) scale(0.9,1)" font-size="4.7" text-anchor="middle" stroke="#000" stroke-width="0.12">12</text>
<line x1="34.30" y1="190.45" x2="34.30" y2="191.65" stroke="#1a1a1a" stroke-width="0.55"/>
<line x1="39.40" y1="190.45" x2="39.40" y2="192.45" stroke="#1a1a1a" stroke-width="0.55"/>
<text transform="translate(39.40,197.55) scale(0.9,1)" font-size="4.7" text-anchor="middle" stroke="#000" stroke-width="0.12">24</text>
<line x1="44.50" y1="190.45" x2="44.50" y2="191.65" stroke="#1a1a1a" stroke-width="0.55"/>
<line x1="49.60" y1="190.45" x2="49.60" y2="192.45" stroke="#1a1a1a" stroke-width="0.55"/>
<text transform="translate(49.60,197.55) scale(0.9,1)" font-size="4.7" text-anchor="middle" stroke="#000" stroke-width="0.12">36</text>
<line x1="54.70" y1="190.45" x2="54.70" y2="191.65" stroke="#1a1a1a" stroke-width="0.55"/>
<line x1="59.80" y1="190.45" x2="59.80" y2="192.45" stroke="#1a1a1a" stroke-width="0.55"/>
<text transform="translate(59.80,197.55) scale(0.9,1)" font-size="4.7" text-anchor="middle" stroke="#000" stroke-width="0.12">48</text>
<line x1="64.90" y1="190.45" x2="64.90" y2="191.65" stroke="#1a1a1a" stroke-width="0.55"/>
<line x1="70.00" y1="190.45" x2="70.00" y2="192.45" stroke="#1a1a1a" stroke-width="0.55"/>
<text transform="translate(70.00,197.55) scale(0.9,1)" font-size="4.7" text-anchor="middle" stroke="#000" stroke-width="0.12">60</text>
<line x1="92.50" y1="137.95" x2="92.50" y2="190.95" stroke="#1a1a1a" stroke-width="0.7"/>
<line x1="92.20" y1="190.45" x2="143.80" y2="190.45" stroke="#1a1a1a" stroke-width="0.7"/>
<line x1="89.90" y1="190.45" x2="92.50" y2="190.45" stroke="#1a1a1a" stroke-width="0.5"/>
<text transform="translate(89.20,192.05) scale(0.9,1)" font-size="4.7" text-anchor="end" stroke="#000" stroke-width="0.12">0</text>
<line x1="91.20" y1="185.20" x2="92.50" y2="185.20" stroke="#1a1a1a" stroke-width="0.5"/>
<line x1="89.90" y1="179.95" x2="92.50" y2="179.95" stroke="#1a1a1a" stroke-width="0.5"/>
<text transform="translate(89.20,181.55) scale(0.9,1)" font-size="4.7" text-anchor="end" stroke="#000" stroke-width="0.12">20</text>
<line x1="91.20" y1="174.70" x2="92.50" y2="174.70" stroke="#1a1a1a" stroke-width="0.5"/>
<line x1="89.90" y1="169.45" x2="92.50" y2="169.45" stroke="#1a1a1a" stroke-width="0.5"/>
<text transform="translate(89.20,171.05) scale(0.9,1)" font-size="4.7" text-anchor="end" stroke="#000" stroke-width="0.12">40</text>
<line x1="91.20" y1="164.20" x2="92.50" y2="164.20" stroke="#1a1a1a" stroke-width="0.5"/>
<line x1="89.90" y1="158.95" x2="92.50" y2="158.95" stroke="#1a1a1a" stroke-width="0.5"/>
<text transform="translate(89.20,160.55) scale(0.9,1)" font-size="4.7" text-anchor="end" stroke="#000" stroke-width="0.12">60</text>
<line x1="91.20" y1="153.70" x2="92.50" y2="153.70" stroke="#1a1a1a" stroke-width="0.5"/>
<line x1="89.90" y1="148.45" x2="92.50" y2="148.45" stroke="#1a1a1a" stroke-width="0.5"/>
<text transform="translate(89.20,150.05) scale(0.9,1)" font-size="4.7" text-anchor="end" stroke="#000" stroke-width="0.12">80</text>
<line x1="91.20" y1="143.20" x2="92.50" y2="143.20" stroke="#1a1a1a" stroke-width="0.5"/>
<line x1="89.90" y1="137.95" x2="92.50" y2="137.95" stroke="#1a1a1a" stroke-width="0.5"/>
<text transform="translate(89.20,139.55) scale(0.9,1)" font-size="4.7" text-anchor="end" stroke="#000" stroke-width="0.12">100</text>
<line x1="92.50" y1="190.45" x2="92.50" y2="192.45" stroke="#1a1a1a" stroke-width="0.55"/>
<text transform="translate(92.50,197.55) scale(0.9,1)" font-size="4.7" text-anchor="middle" stroke="#000" stroke-width="0.12">0</text>
<line x1="97.60" y1="190.45" x2="97.60" y2="191.65" stroke="#1a1a1a" stroke-width="0.55"/>
<line x1="102.70" y1="190.45" x2="102.70" y2="192.45" stroke="#1a1a1a" stroke-width="0.55"/>
<text transform="translate(102.70,197.55) scale(0.9,1)" font-size="4.7" text-anchor="middle" stroke="#000" stroke-width="0.12">12</text>
<line x1="107.80" y1="190.45" x2="107.80" y2="191.65" stroke="#1a1a1a" stroke-width="0.55"/>
<line x1="112.90" y1="190.45" x2="112.90" y2="192.45" stroke="#1a1a1a" stroke-width="0.55"/>
<text transform="translate(112.90,197.55) scale(0.9,1)" font-size="4.7" text-anchor="middle" stroke="#000" stroke-width="0.12">24</text>
<line x1="118.00" y1="190.45" x2="118.00" y2="191.65" stroke="#1a1a1a" stroke-width="0.55"/>
<line x1="123.10" y1="190.45" x2="123.10" y2="192.45" stroke="#1a1a1a" stroke-width="0.55"/>
<text transform="translate(123.10,197.55) scale(0.9,1)" font-size="4.7" text-anchor="middle" stroke="#000" stroke-width="0.12">36</text>
<line x1="128.20" y1="190.45" x2="128.20" y2="191.65" stroke="#1a1a1a" stroke-width="0.55"/>
<line x1="133.30" y1="190.45" x2="133.30" y2="192.45" stroke="#1a1a1a" stroke-width="0.55"/>
<text transform="translate(133.30,197.55) scale(0.9,1)" font-size="4.7" text-anchor="middle" stroke="#000" stroke-width="0.12">48</text>
<line x1="138.40" y1="190.45" x2="138.40" y2="191.65" stroke="#1a1a1a" stroke-width="0.55"/>
<line x1="143.50" y1="190.45" x2="143.50" y2="192.45" stroke="#1a1a1a" stroke-width="0.55"/>
<text transform="translate(143.50,197.55) scale(0.9,1)" font-size="4.7" text-anchor="middle" stroke="#000" stroke-width="0.12">60</text>
<line x1="166.80" y1="137.95" x2="166.80" y2="190.95" stroke="#1a1a1a" stroke-width="0.7"/>
<line x1="166.50" y1="190.45" x2="218.10" y2="190.45" stroke="#1a1a1a" stroke-width="0.7"/>
<line x1="164.20" y1="190.45" x2="166.80" y2="190.45" stroke="#1a1a1a" stroke-width="0.5"/>
<text transform="translate(163.50,192.05) scale(0.9,1)" font-size="4.7" text-anchor="end" stroke="#000" stroke-width="0.12">0</text>
<line x1="165.50" y1="185.20" x2="166.80" y2="185.20" stroke="#1a1a1a" stroke-width="0.5"/>
<line x1="164.20" y1="179.95" x2="166.80" y2="179.95" stroke="#1a1a1a" stroke-width="0.5"/>
<text transform="translate(163.50,181.55) scale(0.9,1)" font-size="4.7" text-anchor="end" stroke="#000" stroke-width="0.12">20</text>
<line x1="165.50" y1="174.70" x2="166.80" y2="174.70" stroke="#1a1a1a" stroke-width="0.5"/>
<line x1="164.20" y1="169.45" x2="166.80" y2="169.45" stroke="#1a1a1a" stroke-width="0.5"/>
<text transform="translate(163.50,171.05) scale(0.9,1)" font-size="4.7" text-anchor="end" stroke="#000" stroke-width="0.12">40</text>
<line x1="165.50" y1="164.20" x2="166.80" y2="164.20" stroke="#1a1a1a" stroke-width="0.5"/>
<line x1="164.20" y1="158.95" x2="166.80" y2="158.95" stroke="#1a1a1a" stroke-width="0.5"/>
<text transform="translate(163.50,160.55) scale(0.9,1)" font-size="4.7" text-anchor="end" stroke="#000" stroke-width="0.12">60</text>
<line x1="165.50" y1="153.70" x2="166.80" y2="153.70" stroke="#1a1a1a" stroke-width="0.5"/>
<line x1="164.20" y1="148.45" x2="166.80" y2="148.45" stroke="#1a1a1a" stroke-width="0.5"/>
<text transform="translate(163.50,150.05) scale(0.9,1)" font-size="4.7" text-anchor="end" stroke="#000" stroke-width="0.12">80</text>
<line x1="165.50" y1="143.20" x2="166.80" y2="143.20" stroke="#1a1a1a" stroke-width="0.5"/>
<line x1="164.20" y1="137.95" x2="166.80" y2="137.95" stroke="#1a1a1a" stroke-width="0.5"/>
<text transform="translate(163.50,139.55) scale(0.9,1)" font-size="4.7" text-anchor="end" stroke="#000" stroke-width="0.12">100</text>
<line x1="166.80" y1="190.45" x2="166.80" y2="192.45" stroke="#1a1a1a" stroke-width="0.55"/>
<text transform="translate(166.80,197.55) scale(0.9,1)" font-size="4.7" text-anchor="middle" stroke="#000" stroke-width="0.12">0</text>
<line x1="171.90" y1="190.45" x2="171.90" y2="191.65" stroke="#1a1a1a" stroke-width="0.55"/>
<line x1="177.00" y1="190.45" x2="177.00" y2="192.45" stroke="#1a1a1a" stroke-width="0.55"/>
<text transform="translate(177.00,197.55) scale(0.9,1)" font-size="4.7" text-anchor="middle" stroke="#000" stroke-width="0.12">12</text>
<line x1="182.10" y1="190.45" x2="182.10" y2="191.65" stroke="#1a1a1a" stroke-width="0.55"/>
<line x1="187.20" y1="190.45" x2="187.20" y2="192.45" stroke="#1a1a1a" stroke-width="0.55"/>
<text transform="translate(187.20,197.55) scale(0.9,1)" font-size="4.7" text-anchor="middle" stroke="#000" stroke-width="0.12">24</text>
<line x1="192.30" y1="190.45" x2="192.30" y2="191.65" stroke="#1a1a1a" stroke-width="0.55"/>
<line x1="197.40" y1="190.45" x2="197.40" y2="192.45" stroke="#1a1a1a" stroke-width="0.55"/>
<text transform="translate(197.40,197.55) scale(0.9,1)" font-size="4.7" text-anchor="middle" stroke="#000" stroke-width="0.12">36</text>
<line x1="202.50" y1="190.45" x2="202.50" y2="191.65" stroke="#1a1a1a" stroke-width="0.55"/>
<line x1="207.60" y1="190.45" x2="207.60" y2="192.45" stroke="#1a1a1a" stroke-width="0.55"/>
<text transform="translate(207.60,197.55) scale(0.9,1)" font-size="4.7" text-anchor="middle" stroke="#000" stroke-width="0.12">48</text>
<line x1="212.70" y1="190.45" x2="212.70" y2="191.65" stroke="#1a1a1a" stroke-width="0.55"/>
<line x1="217.80" y1="190.45" x2="217.80" y2="192.45" stroke="#1a1a1a" stroke-width="0.55"/>
<text transform="translate(217.80,197.55) scale(0.9,1)" font-size="4.7" text-anchor="middle" stroke="#000" stroke-width="0.12">60</text>
<line x1="240.90" y1="137.95" x2="240.90" y2="190.95" stroke="#1a1a1a" stroke-width="0.7"/>
<line x1="240.60" y1="190.45" x2="292.20" y2="190.45" stroke="#1a1a1a" stroke-width="0.7"/>
<line x1="238.30" y1="190.45" x2="240.90" y2="190.45" stroke="#1a1a1a" stroke-width="0.5"/>
<text transform="translate(237.60,192.05) scale(0.9,1)" font-size="4.7" text-anchor="end" stroke="#000" stroke-width="0.12">0</text>
<line x1="239.60" y1="185.20" x2="240.90" y2="185.20" stroke="#1a1a1a" stroke-width="0.5"/>
<line x1="238.30" y1="179.95" x2="240.90" y2="179.95" stroke="#1a1a1a" stroke-width="0.5"/>
<text transform="translate(237.60,181.55) scale(0.9,1)" font-size="4.7" text-anchor="end" stroke="#000" stroke-width="0.12">20</text>
<line x1="239.60" y1="174.70" x2="240.90" y2="174.70" stroke="#1a1a1a" stroke-width="0.5"/>
<line x1="238.30" y1="169.45" x2="240.90" y2="169.45" stroke="#1a1a1a" stroke-width="0.5"/>
<text transform="translate(237.60,171.05) scale(0.9,1)" font-size="4.7" text-anchor="end" stroke="#000" stroke-width="0.12">40</text>
<line x1="239.60" y1="164.20" x2="240.90" y2="164.20" stroke="#1a1a1a" stroke-width="0.5"/>
<line x1="238.30" y1="158.95" x2="240.90" y2="158.95" stroke="#1a1a1a" stroke-width="0.5"/>
<text transform="translate(237.60,160.55) scale(0.9,1)" font-size="4.7" text-anchor="end" stroke="#000" stroke-width="0.12">60</text>
<line x1="239.60" y1="153.70" x2="240.90" y2="153.70" stroke="#1a1a1a" stroke-width="0.5"/>
<line x1="238.30" y1="148.45" x2="240.90" y2="148.45" stroke="#1a1a1a" stroke-width="0.5"/>
<text transform="translate(237.60,150.05) scale(0.9,1)" font-size="4.7" text-anchor="end" stroke="#000" stroke-width="0.12">80</text>
<line x1="239.60" y1="143.20" x2="240.90" y2="143.20" stroke="#1a1a1a" stroke-width="0.5"/>
<line x1="238.30" y1="137.95" x2="240.90" y2="137.95" stroke="#1a1a1a" stroke-width="0.5"/>
<text transform="translate(237.60,139.55) scale(0.9,1)" font-size="4.7" text-anchor="end" stroke="#000" stroke-width="0.12">100</text>
<line x1="240.90" y1="190.45" x2="240.90" y2="192.45" stroke="#1a1a1a" stroke-width="0.55"/>
<text transform="translate(240.90,197.55) scale(0.9,1)" font-size="4.7" text-anchor="middle" stroke="#000" stroke-width="0.12">0</text>
<line x1="246.00" y1="190.45" x2="246.00" y2="191.65" stroke="#1a1a1a" stroke-width="0.55"/>
<line x1="251.10" y1="190.45" x2="251.10" y2="192.45" stroke="#1a1a1a" stroke-width="0.55"/>
<text transform="translate(251.10,197.55) scale(0.9,1)" font-size="4.7" text-anchor="middle" stroke="#000" stroke-width="0.12">12</text>
<line x1="256.20" y1="190.45" x2="256.20" y2="191.65" stroke="#1a1a1a" stroke-width="0.55"/>
<line x1="261.30" y1="190.45" x2="261.30" y2="192.45" stroke="#1a1a1a" stroke-width="0.55"/>
<text transform="translate(261.30,197.55) scale(0.9,1)" font-size="4.7" text-anchor="middle" stroke="#000" stroke-width="0.12">24</text>
<line x1="266.40" y1="190.45" x2="266.40" y2="191.65" stroke="#1a1a1a" stroke-width="0.55"/>
<line x1="271.50" y1="190.45" x2="271.50" y2="192.45" stroke="#1a1a1a" stroke-width="0.55"/>
<text transform="translate(271.50,197.55) scale(0.9,1)" font-size="4.7" text-anchor="middle" stroke="#000" stroke-width="0.12">36</text>
<line x1="276.60" y1="190.45" x2="276.60" y2="191.65" stroke="#1a1a1a" stroke-width="0.55"/>
<line x1="281.70" y1="190.45" x2="281.70" y2="192.45" stroke="#1a1a1a" stroke-width="0.55"/>
<text transform="translate(281.70,197.55) scale(0.9,1)" font-size="4.7" text-anchor="middle" stroke="#000" stroke-width="0.12">48</text>
<line x1="286.80" y1="190.45" x2="286.80" y2="191.65" stroke="#1a1a1a" stroke-width="0.55"/>
<line x1="291.90" y1="190.45" x2="291.90" y2="192.45" stroke="#1a1a1a" stroke-width="0.55"/>
<text transform="translate(291.90,197.55) scale(0.9,1)" font-size="4.7" text-anchor="middle" stroke="#000" stroke-width="0.12">60</text>
<line x1="315.20" y1="137.95" x2="315.20" y2="190.95" stroke="#1a1a1a" stroke-width="0.7"/>
<line x1="314.90" y1="190.45" x2="366.50" y2="190.45" stroke="#1a1a1a" stroke-width="0.7"/>
<line x1="312.60" y1="190.45" x2="315.20" y2="190.45" stroke="#1a1a1a" stroke-width="0.5"/>
<text transform="translate(311.90,192.05) scale(0.9,1)" font-size="4.7" text-anchor="end" stroke="#000" stroke-width="0.12">0</text>
<line x1="313.90" y1="185.20" x2="315.20" y2="185.20" stroke="#1a1a1a" stroke-width="0.5"/>
<line x1="312.60" y1="179.95" x2="315.20" y2="179.95" stroke="#1a1a1a" stroke-width="0.5"/>
<text transform="translate(311.90,181.55) scale(0.9,1)" font-size="4.7" text-anchor="end" stroke="#000" stroke-width="0.12">20</text>
<line x1="313.90" y1="174.70" x2="315.20" y2="174.70" stroke="#1a1a1a" stroke-width="0.5"/>
<line x1="312.60" y1="169.45" x2="315.20" y2="169.45" stroke="#1a1a1a" stroke-width="0.5"/>
<text transform="translate(311.90,171.05) scale(0.9,1)" font-size="4.7" text-anchor="end" stroke="#000" stroke-width="0.12">40</text>
<line x1="313.90" y1="164.20" x2="315.20" y2="164.20" stroke="#1a1a1a" stroke-width="0.5"/>
<line x1="312.60" y1="158.95" x2="315.20" y2="158.95" stroke="#1a1a1a" stroke-width="0.5"/>
<text transform="translate(311.90,160.55) scale(0.9,1)" font-size="4.7" text-anchor="end" stroke="#000" stroke-width="0.12">60</text>
<line x1="313.90" y1="153.70" x2="315.20" y2="153.70" stroke="#1a1a1a" stroke-width="0.5"/>
<line x1="312.60" y1="148.45" x2="315.20" y2="148.45" stroke="#1a1a1a" stroke-width="0.5"/>
<text transform="translate(311.90,150.05) scale(0.9,1)" font-size="4.7" text-anchor="end" stroke="#000" stroke-width="0.12">80</text>
<line x1="313.90" y1="143.20" x2="315.20" y2="143.20" stroke="#1a1a1a" stroke-width="0.5"/>
<line x1="312.60" y1="137.95" x2="315.20" y2="137.95" stroke="#1a1a1a" stroke-width="0.5"/>
<text transform="translate(311.90,139.55) scale(0.9,1)" font-size="4.7" text-anchor="end" stroke="#000" stroke-width="0.12">100</text>
<line x1="315.20" y1="190.45" x2="315.20" y2="192.45" stroke="#1a1a1a" stroke-width="0.55"/>
<text transform="translate(315.20,197.55) scale(0.9,1)" font-size="4.7" text-anchor="middle" stroke="#000" stroke-width="0.12">0</text>
<line x1="320.30" y1="190.45" x2="320.30" y2="191.65" stroke="#1a1a1a" stroke-width="0.55"/>
<line x1="325.40" y1="190.45" x2="325.40" y2="192.45" stroke="#1a1a1a" stroke-width="0.55"/>
<text transform="translate(325.40,197.55) scale(0.9,1)" font-size="4.7" text-anchor="middle" stroke="#000" stroke-width="0.12">12</text>
<line x1="330.50" y1="190.45" x2="330.50" y2="191.65" stroke="#1a1a1a" stroke-width="0.55"/>
<line x1="335.60" y1="190.45" x2="335.60" y2="192.45" stroke="#1a1a1a" stroke-width="0.55"/>
<text transform="translate(335.60,197.55) scale(0.9,1)" font-size="4.7" text-anchor="middle" stroke="#000" stroke-width="0.12">24</text>
<line x1="340.70" y1="190.45" x2="340.70" y2="191.65" stroke="#1a1a1a" stroke-width="0.55"/>
<line x1="345.80" y1="190.45" x2="345.80" y2="192.45" stroke="#1a1a1a" stroke-width="0.55"/>
<text transform="translate(345.80,197.55) scale(0.9,1)" font-size="4.7" text-anchor="middle" stroke="#000" stroke-width="0.12">36</text>
<line x1="350.90" y1="190.45" x2="350.90" y2="191.65" stroke="#1a1a1a" stroke-width="0.55"/>
<line x1="356.00" y1="190.45" x2="356.00" y2="192.45" stroke="#1a1a1a" stroke-width="0.55"/>
<text transform="translate(356.00,197.55) scale(0.9,1)" font-size="4.7" text-anchor="middle" stroke="#000" stroke-width="0.12">48</text>
<line x1="361.10" y1="190.45" x2="361.10" y2="191.65" stroke="#1a1a1a" stroke-width="0.55"/>
<line x1="366.20" y1="190.45" x2="366.20" y2="192.45" stroke="#1a1a1a" stroke-width="0.55"/>
<text transform="translate(366.20,197.55) scale(0.9,1)" font-size="4.7" text-anchor="middle" stroke="#000" stroke-width="0.12">60</text>
<line x1="388.50" y1="137.95" x2="388.50" y2="190.95" stroke="#1a1a1a" stroke-width="0.7"/>
<line x1="388.20" y1="190.45" x2="439.80" y2="190.45" stroke="#1a1a1a" stroke-width="0.7"/>
<line x1="385.90" y1="190.45" x2="388.50" y2="190.45" stroke="#1a1a1a" stroke-width="0.5"/>
<text transform="translate(385.20,192.05) scale(0.9,1)" font-size="4.7" text-anchor="end" stroke="#000" stroke-width="0.12">0</text>
<line x1="387.20" y1="185.20" x2="388.50" y2="185.20" stroke="#1a1a1a" stroke-width="0.5"/>
<line x1="385.90" y1="179.95" x2="388.50" y2="179.95" stroke="#1a1a1a" stroke-width="0.5"/>
<text transform="translate(385.20,181.55) scale(0.9,1)" font-size="4.7" text-anchor="end" stroke="#000" stroke-width="0.12">20</text>
<line x1="387.20" y1="174.70" x2="388.50" y2="174.70" stroke="#1a1a1a" stroke-width="0.5"/>
<line x1="385.90" y1="169.45" x2="388.50" y2="169.45" stroke="#1a1a1a" stroke-width="0.5"/>
<text transform="translate(385.20,171.05) scale(0.9,1)" font-size="4.7" text-anchor="end" stroke="#000" stroke-width="0.12">40</text>
<line x1="387.20" y1="164.20" x2="388.50" y2="164.20" stroke="#1a1a1a" stroke-width="0.5"/>
<line x1="385.90" y1="158.95" x2="388.50" y2="158.95" stroke="#1a1a1a" stroke-width="0.5"/>
<text transform="translate(385.20,160.55) scale(0.9,1)" font-size="4.7" text-anchor="end" stroke="#000" stroke-width="0.12">60</text>
<line x1="387.20" y1="153.70" x2="388.50" y2="153.70" stroke="#1a1a1a" stroke-width="0.5"/>
<line x1="385.90" y1="148.45" x2="388.50" y2="148.45" stroke="#1a1a1a" stroke-width="0.5"/>
<text transform="translate(385.20,150.05) scale(0.9,1)" font-size="4.7" text-anchor="end" stroke="#000" stroke-width="0.12">80</text>
<line x1="387.20" y1="143.20" x2="388.50" y2="143.20" stroke="#1a1a1a" stroke-width="0.5"/>
<line x1="385.90" y1="137.95" x2="388.50" y2="137.95" stroke="#1a1a1a" stroke-width="0.5"/>
<text transform="translate(385.20,139.55) scale(0.9,1)" font-size="4.7" text-anchor="end" stroke="#000" stroke-width="0.12">100</text>
<line x1="388.50" y1="190.45" x2="388.50" y2="192.45" stroke="#1a1a1a" stroke-width="0.55"/>
<text transform="translate(388.50,197.55) scale(0.9,1)" font-size="4.7" text-anchor="middle" stroke="#000" stroke-width="0.12">0</text>
<line x1="393.60" y1="190.45" x2="393.60" y2="191.65" stroke="#1a1a1a" stroke-width="0.55"/>
<line x1="398.70" y1="190.45" x2="398.70" y2="192.45" stroke="#1a1a1a" stroke-width="0.55"/>
<text transform="translate(398.70,197.55) scale(0.9,1)" font-size="4.7" text-anchor="middle" stroke="#000" stroke-width="0.12">12</text>
<line x1="403.80" y1="190.45" x2="403.80" y2="191.65" stroke="#1a1a1a" stroke-width="0.55"/>
<line x1="408.90" y1="190.45" x2="408.90" y2="192.45" stroke="#1a1a1a" stroke-width="0.55"/>
<text transform="translate(408.90,197.55) scale(0.9,1)" font-size="4.7" text-anchor="middle" stroke="#000" stroke-width="0.12">24</text>
<line x1="414.00" y1="190.45" x2="414.00" y2="191.65" stroke="#1a1a1a" stroke-width="0.55"/>
<line x1="419.10" y1="190.45" x2="419.10" y2="192.45" stroke="#1a1a1a" stroke-width="0.55"/>
<text transform="translate(419.10,197.55) scale(0.9,1)" font-size="4.7" text-anchor="middle" stroke="#000" stroke-width="0.12">36</text>
<line x1="424.20" y1="190.45" x2="424.20" y2="191.65" stroke="#1a1a1a" stroke-width="0.55"/>
<line x1="429.30" y1="190.45" x2="429.30" y2="192.45" stroke="#1a1a1a" stroke-width="0.55"/>
<text transform="translate(429.30,197.55) scale(0.9,1)" font-size="4.7" text-anchor="middle" stroke="#000" stroke-width="0.12">48</text>
<line x1="434.40" y1="190.45" x2="434.40" y2="191.65" stroke="#1a1a1a" stroke-width="0.55"/>
<line x1="439.50" y1="190.45" x2="439.50" y2="192.45" stroke="#1a1a1a" stroke-width="0.55"/>
<text transform="translate(439.50,197.55) scale(0.9,1)" font-size="4.7" text-anchor="middle" stroke="#000" stroke-width="0.12">60</text>
<line x1="463.50" y1="137.95" x2="463.50" y2="190.95" stroke="#1a1a1a" stroke-width="0.7"/>
<line x1="463.20" y1="190.45" x2="514.80" y2="190.45" stroke="#1a1a1a" stroke-width="0.7"/>
<line x1="460.90" y1="190.45" x2="463.50" y2="190.45" stroke="#1a1a1a" stroke-width="0.5"/>
<text transform="translate(460.20,192.05) scale(0.9,1)" font-size="4.7" text-anchor="end" stroke="#000" stroke-width="0.12">0</text>
<line x1="462.20" y1="185.20" x2="463.50" y2="185.20" stroke="#1a1a1a" stroke-width="0.5"/>
<line x1="460.90" y1="179.95" x2="463.50" y2="179.95" stroke="#1a1a1a" stroke-width="0.5"/>
<text transform="translate(460.20,181.55) scale(0.9,1)" font-size="4.7" text-anchor="end" stroke="#000" stroke-width="0.12">20</text>
<line x1="462.20" y1="174.70" x2="463.50" y2="174.70" stroke="#1a1a1a" stroke-width="0.5"/>
<line x1="460.90" y1="169.45" x2="463.50" y2="169.45" stroke="#1a1a1a" stroke-width="0.5"/>
<text transform="translate(460.20,171.05) scale(0.9,1)" font-size="4.7" text-anchor="end" stroke="#000" stroke-width="0.12">40</text>
<line x1="462.20" y1="164.20" x2="463.50" y2="164.20" stroke="#1a1a1a" stroke-width="0.5"/>
<line x1="460.90" y1="158.95" x2="463.50" y2="158.95" stroke="#1a1a1a" stroke-width="0.5"/>
<text transform="translate(460.20,160.55) scale(0.9,1)" font-size="4.7" text-anchor="end" stroke="#000" stroke-width="0.12">60</text>
<line x1="462.20" y1="153.70" x2="463.50" y2="153.70" stroke="#1a1a1a" stroke-width="0.5"/>
<line x1="460.90" y1="148.45" x2="463.50" y2="148.45" stroke="#1a1a1a" stroke-width="0.5"/>
<text transform="translate(460.20,150.05) scale(0.9,1)" font-size="4.7" text-anchor="end" stroke="#000" stroke-width="0.12">80</text>
<line x1="462.20" y1="143.20" x2="463.50" y2="143.20" stroke="#1a1a1a" stroke-width="0.5"/>
<line x1="460.90" y1="137.95" x2="463.50" y2="137.95" stroke="#1a1a1a" stroke-width="0.5"/>
<text transform="translate(460.20,139.55) scale(0.9,1)" font-size="4.7" text-anchor="end" stroke="#000" stroke-width="0.12">100</text>
<line x1="463.50" y1="190.45" x2="463.50" y2="192.45" stroke="#1a1a1a" stroke-width="0.55"/>
<text transform="translate(463.50,197.55) scale(0.9,1)" font-size="4.7" text-anchor="middle" stroke="#000" stroke-width="0.12">0</text>
<line x1="468.60" y1="190.45" x2="468.60" y2="191.65" stroke="#1a1a1a" stroke-width="0.55"/>
<line x1="473.70" y1="190.45" x2="473.70" y2="192.45" stroke="#1a1a1a" stroke-width="0.55"/>
<text transform="translate(473.70,197.55) scale(0.9,1)" font-size="4.7" text-anchor="middle" stroke="#000" stroke-width="0.12">12</text>
<line x1="478.80" y1="190.45" x2="478.80" y2="191.65" stroke="#1a1a1a" stroke-width="0.55"/>
<line x1="483.90" y1="190.45" x2="483.90" y2="192.45" stroke="#1a1a1a" stroke-width="0.55"/>
<text transform="translate(483.90,197.55) scale(0.9,1)" font-size="4.7" text-anchor="middle" stroke="#000" stroke-width="0.12">24</text>
<line x1="489.00" y1="190.45" x2="489.00" y2="191.65" stroke="#1a1a1a" stroke-width="0.55"/>
<line x1="494.10" y1="190.45" x2="494.10" y2="192.45" stroke="#1a1a1a" stroke-width="0.55"/>
<text transform="translate(494.10,197.55) scale(0.9,1)" font-size="4.7" text-anchor="middle" stroke="#000" stroke-width="0.12">36</text>
<line x1="499.20" y1="190.45" x2="499.20" y2="191.65" stroke="#1a1a1a" stroke-width="0.55"/>
<line x1="504.30" y1="190.45" x2="504.30" y2="192.45" stroke="#1a1a1a" stroke-width="0.55"/>
<text transform="translate(504.30,197.55) scale(0.9,1)" font-size="4.7" text-anchor="middle" stroke="#000" stroke-width="0.12">48</text>
<line x1="509.40" y1="190.45" x2="509.40" y2="191.65" stroke="#1a1a1a" stroke-width="0.55"/>
<line x1="514.50" y1="190.45" x2="514.50" y2="192.45" stroke="#1a1a1a" stroke-width="0.55"/>
<text transform="translate(514.50,197.55) scale(0.9,1)" font-size="4.7" text-anchor="middle" stroke="#000" stroke-width="0.12">60</text>
<line x1="18.80" y1="251.70" x2="18.80" y2="304.70" stroke="#1a1a1a" stroke-width="0.7"/>
<line x1="18.50" y1="304.20" x2="70.10" y2="304.20" stroke="#1a1a1a" stroke-width="0.7"/>
<line x1="16.20" y1="304.20" x2="18.80" y2="304.20" stroke="#1a1a1a" stroke-width="0.5"/>
<text transform="translate(15.50,305.80) scale(0.9,1)" font-size="4.7" text-anchor="end" stroke="#000" stroke-width="0.12">0</text>
<line x1="17.50" y1="298.95" x2="18.80" y2="298.95" stroke="#1a1a1a" stroke-width="0.5"/>
<line x1="16.20" y1="293.70" x2="18.80" y2="293.70" stroke="#1a1a1a" stroke-width="0.5"/>
<text transform="translate(15.50,295.30) scale(0.9,1)" font-size="4.7" text-anchor="end" stroke="#000" stroke-width="0.12">20</text>
<line x1="17.50" y1="288.45" x2="18.80" y2="288.45" stroke="#1a1a1a" stroke-width="0.5"/>
<line x1="16.20" y1="283.20" x2="18.80" y2="283.20" stroke="#1a1a1a" stroke-width="0.5"/>
<text transform="translate(15.50,284.80) scale(0.9,1)" font-size="4.7" text-anchor="end" stroke="#000" stroke-width="0.12">40</text>
<line x1="17.50" y1="277.95" x2="18.80" y2="277.95" stroke="#1a1a1a" stroke-width="0.5"/>
<line x1="16.20" y1="272.70" x2="18.80" y2="272.70" stroke="#1a1a1a" stroke-width="0.5"/>
<text transform="translate(15.50,274.30) scale(0.9,1)" font-size="4.7" text-anchor="end" stroke="#000" stroke-width="0.12">60</text>
<line x1="17.50" y1="267.45" x2="18.80" y2="267.45" stroke="#1a1a1a" stroke-width="0.5"/>
<line x1="16.20" y1="262.20" x2="18.80" y2="262.20" stroke="#1a1a1a" stroke-width="0.5"/>
<text transform="translate(15.50,263.80) scale(0.9,1)" font-size="4.7" text-anchor="end" stroke="#000" stroke-width="0.12">80</text>
<line x1="17.50" y1="256.95" x2="18.80" y2="256.95" stroke="#1a1a1a" stroke-width="0.5"/>
<line x1="16.20" y1="251.70" x2="18.80" y2="251.70" stroke="#1a1a1a" stroke-width="0.5"/>
<text transform="translate(15.50,253.30) scale(0.9,1)" font-size="4.7" text-anchor="end" stroke="#000" stroke-width="0.12">100</text>
<line x1="18.80" y1="304.20" x2="18.80" y2="306.20" stroke="#1a1a1a" stroke-width="0.55"/>
<text transform="translate(18.80,311.30) scale(0.9,1)" font-size="4.7" text-anchor="middle" stroke="#000" stroke-width="0.12">0</text>
<line x1="23.90" y1="304.20" x2="23.90" y2="305.40" stroke="#1a1a1a" stroke-width="0.55"/>
<line x1="29.00" y1="304.20" x2="29.00" y2="306.20" stroke="#1a1a1a" stroke-width="0.55"/>
<text transform="translate(29.00,311.30) scale(0.9,1)" font-size="4.7" text-anchor="middle" stroke="#000" stroke-width="0.12">12</text>
<line x1="34.10" y1="304.20" x2="34.10" y2="305.40" stroke="#1a1a1a" stroke-width="0.55"/>
<line x1="39.20" y1="304.20" x2="39.20" y2="306.20" stroke="#1a1a1a" stroke-width="0.55"/>
<text transform="translate(39.20,311.30) scale(0.9,1)" font-size="4.7" text-anchor="middle" stroke="#000" stroke-width="0.12">24</text>
<line x1="44.30" y1="304.20" x2="44.30" y2="305.40" stroke="#1a1a1a" stroke-width="0.55"/>
<line x1="49.40" y1="304.20" x2="49.40" y2="306.20" stroke="#1a1a1a" stroke-width="0.55"/>
<text transform="translate(49.40,311.30) scale(0.9,1)" font-size="4.7" text-anchor="middle" stroke="#000" stroke-width="0.12">36</text>
<line x1="54.50" y1="304.20" x2="54.50" y2="305.40" stroke="#1a1a1a" stroke-width="0.55"/>
<line x1="59.60" y1="304.20" x2="59.60" y2="306.20" stroke="#1a1a1a" stroke-width="0.55"/>
<text transform="translate(59.60,311.30) scale(0.9,1)" font-size="4.7" text-anchor="middle" stroke="#000" stroke-width="0.12">48</text>
<line x1="64.70" y1="304.20" x2="64.70" y2="305.40" stroke="#1a1a1a" stroke-width="0.55"/>
<line x1="69.80" y1="304.20" x2="69.80" y2="306.20" stroke="#1a1a1a" stroke-width="0.55"/>
<text transform="translate(69.80,311.30) scale(0.9,1)" font-size="4.7" text-anchor="middle" stroke="#000" stroke-width="0.12">60</text>
<line x1="91.90" y1="251.70" x2="91.90" y2="304.70" stroke="#1a1a1a" stroke-width="0.7"/>
<line x1="91.60" y1="304.20" x2="143.20" y2="304.20" stroke="#1a1a1a" stroke-width="0.7"/>
<line x1="89.30" y1="304.20" x2="91.90" y2="304.20" stroke="#1a1a1a" stroke-width="0.5"/>
<text transform="translate(88.60,305.80) scale(0.9,1)" font-size="4.7" text-anchor="end" stroke="#000" stroke-width="0.12">0</text>
<line x1="90.60" y1="298.95" x2="91.90" y2="298.95" stroke="#1a1a1a" stroke-width="0.5"/>
<line x1="89.30" y1="293.70" x2="91.90" y2="293.70" stroke="#1a1a1a" stroke-width="0.5"/>
<text transform="translate(88.60,295.30) scale(0.9,1)" font-size="4.7" text-anchor="end" stroke="#000" stroke-width="0.12">20</text>
<line x1="90.60" y1="288.45" x2="91.90" y2="288.45" stroke="#1a1a1a" stroke-width="0.5"/>
<line x1="89.30" y1="283.20" x2="91.90" y2="283.20" stroke="#1a1a1a" stroke-width="0.5"/>
<text transform="translate(88.60,284.80) scale(0.9,1)" font-size="4.7" text-anchor="end" stroke="#000" stroke-width="0.12">40</text>
<line x1="90.60" y1="277.95" x2="91.90" y2="277.95" stroke="#1a1a1a" stroke-width="0.5"/>
<line x1="89.30" y1="272.70" x2="91.90" y2="272.70" stroke="#1a1a1a" stroke-width="0.5"/>
<text transform="translate(88.60,274.30) scale(0.9,1)" font-size="4.7" text-anchor="end" stroke="#000" stroke-width="0.12">60</text>
<line x1="90.60" y1="267.45" x2="91.90" y2="267.45" stroke="#1a1a1a" stroke-width="0.5"/>
<line x1="89.30" y1="262.20" x2="91.90" y2="262.20" stroke="#1a1a1a" stroke-width="0.5"/>
<text transform="translate(88.60,263.80) scale(0.9,1)" font-size="4.7" text-anchor="end" stroke="#000" stroke-width="0.12">80</text>
<line x1="90.60" y1="256.95" x2="91.90" y2="256.95" stroke="#1a1a1a" stroke-width="0.5"/>
<line x1="89.30" y1="251.70" x2="91.90" y2="251.70" stroke="#1a1a1a" stroke-width="0.5"/>
<text transform="translate(88.60,253.30) scale(0.9,1)" font-size="4.7" text-anchor="end" stroke="#000" stroke-width="0.12">100</text>
<line x1="91.90" y1="304.20" x2="91.90" y2="306.20" stroke="#1a1a1a" stroke-width="0.55"/>
<text transform="translate(91.90,311.30) scale(0.9,1)" font-size="4.7" text-anchor="middle" stroke="#000" stroke-width="0.12">0</text>
<line x1="97.00" y1="304.20" x2="97.00" y2="305.40" stroke="#1a1a1a" stroke-width="0.55"/>
<line x1="102.10" y1="304.20" x2="102.10" y2="306.20" stroke="#1a1a1a" stroke-width="0.55"/>
<text transform="translate(102.10,311.30) scale(0.9,1)" font-size="4.7" text-anchor="middle" stroke="#000" stroke-width="0.12">12</text>
<line x1="107.20" y1="304.20" x2="107.20" y2="305.40" stroke="#1a1a1a" stroke-width="0.55"/>
<line x1="112.30" y1="304.20" x2="112.30" y2="306.20" stroke="#1a1a1a" stroke-width="0.55"/>
<text transform="translate(112.30,311.30) scale(0.9,1)" font-size="4.7" text-anchor="middle" stroke="#000" stroke-width="0.12">24</text>
<line x1="117.40" y1="304.20" x2="117.40" y2="305.40" stroke="#1a1a1a" stroke-width="0.55"/>
<line x1="122.50" y1="304.20" x2="122.50" y2="306.20" stroke="#1a1a1a" stroke-width="0.55"/>
<text transform="translate(122.50,311.30) scale(0.9,1)" font-size="4.7" text-anchor="middle" stroke="#000" stroke-width="0.12">36</text>
<line x1="127.60" y1="304.20" x2="127.60" y2="305.40" stroke="#1a1a1a" stroke-width="0.55"/>
<line x1="132.70" y1="304.20" x2="132.70" y2="306.20" stroke="#1a1a1a" stroke-width="0.55"/>
<text transform="translate(132.70,311.30) scale(0.9,1)" font-size="4.7" text-anchor="middle" stroke="#000" stroke-width="0.12">48</text>
<line x1="137.80" y1="304.20" x2="137.80" y2="305.40" stroke="#1a1a1a" stroke-width="0.55"/>
<line x1="142.90" y1="304.20" x2="142.90" y2="306.20" stroke="#1a1a1a" stroke-width="0.55"/>
<text transform="translate(142.90,311.30) scale(0.9,1)" font-size="4.7" text-anchor="middle" stroke="#000" stroke-width="0.12">60</text>
<line x1="166.80" y1="251.70" x2="166.80" y2="304.70" stroke="#1a1a1a" stroke-width="0.7"/>
<line x1="166.50" y1="304.20" x2="218.10" y2="304.20" stroke="#1a1a1a" stroke-width="0.7"/>
<line x1="164.20" y1="304.20" x2="166.80" y2="304.20" stroke="#1a1a1a" stroke-width="0.5"/>
<text transform="translate(163.50,305.80) scale(0.9,1)" font-size="4.7" text-anchor="end" stroke="#000" stroke-width="0.12">0</text>
<line x1="165.50" y1="298.95" x2="166.80" y2="298.95" stroke="#1a1a1a" stroke-width="0.5"/>
<line x1="164.20" y1="293.70" x2="166.80" y2="293.70" stroke="#1a1a1a" stroke-width="0.5"/>
<text transform="translate(163.50,295.30) scale(0.9,1)" font-size="4.7" text-anchor="end" stroke="#000" stroke-width="0.12">20</text>
<line x1="165.50" y1="288.45" x2="166.80" y2="288.45" stroke="#1a1a1a" stroke-width="0.5"/>
<line x1="164.20" y1="283.20" x2="166.80" y2="283.20" stroke="#1a1a1a" stroke-width="0.5"/>
<text transform="translate(163.50,284.80) scale(0.9,1)" font-size="4.7" text-anchor="end" stroke="#000" stroke-width="0.12">40</text>
<line x1="165.50" y1="277.95" x2="166.80" y2="277.95" stroke="#1a1a1a" stroke-width="0.5"/>
<line x1="164.20" y1="272.70" x2="166.80" y2="272.70" stroke="#1a1a1a" stroke-width="0.5"/>
<text transform="translate(163.50,274.30) scale(0.9,1)" font-size="4.7" text-anchor="end" stroke="#000" stroke-width="0.12">60</text>
<line x1="165.50" y1="267.45" x2="166.80" y2="267.45" stroke="#1a1a1a" stroke-width="0.5"/>
<line x1="164.20" y1="262.20" x2="166.80" y2="262.20" stroke="#1a1a1a" stroke-width="0.5"/>
<text transform="translate(163.50,263.80) scale(0.9,1)" font-size="4.7" text-anchor="end" stroke="#000" stroke-width="0.12">80</text>
<line x1="165.50" y1="256.95" x2="166.80" y2="256.95" stroke="#1a1a1a" stroke-width="0.5"/>
<line x1="164.20" y1="251.70" x2="166.80" y2="251.70" stroke="#1a1a1a" stroke-width="0.5"/>
<text transform="translate(163.50,253.30) scale(0.9,1)" font-size="4.7" text-anchor="end" stroke="#000" stroke-width="0.12">100</text>
<line x1="166.80" y1="304.20" x2="166.80" y2="306.20" stroke="#1a1a1a" stroke-width="0.55"/>
<text transform="translate(166.80,311.30) scale(0.9,1)" font-size="4.7" text-anchor="middle" stroke="#000" stroke-width="0.12">0</text>
<line x1="171.90" y1="304.20" x2="171.90" y2="305.40" stroke="#1a1a1a" stroke-width="0.55"/>
<line x1="177.00" y1="304.20" x2="177.00" y2="306.20" stroke="#1a1a1a" stroke-width="0.55"/>
<text transform="translate(177.00,311.30) scale(0.9,1)" font-size="4.7" text-anchor="middle" stroke="#000" stroke-width="0.12">12</text>
<line x1="182.10" y1="304.20" x2="182.10" y2="305.40" stroke="#1a1a1a" stroke-width="0.55"/>
<line x1="187.20" y1="304.20" x2="187.20" y2="306.20" stroke="#1a1a1a" stroke-width="0.55"/>
<text transform="translate(187.20,311.30) scale(0.9,1)" font-size="4.7" text-anchor="middle" stroke="#000" stroke-width="0.12">24</text>
<line x1="192.30" y1="304.20" x2="192.30" y2="305.40" stroke="#1a1a1a" stroke-width="0.55"/>
<line x1="197.40" y1="304.20" x2="197.40" y2="306.20" stroke="#1a1a1a" stroke-width="0.55"/>
<text transform="translate(197.40,311.30) scale(0.9,1)" font-size="4.7" text-anchor="middle" stroke="#000" stroke-width="0.12">36</text>
<line x1="202.50" y1="304.20" x2="202.50" y2="305.40" stroke="#1a1a1a" stroke-width="0.55"/>
<line x1="207.60" y1="304.20" x2="207.60" y2="306.20" stroke="#1a1a1a" stroke-width="0.55"/>
<text transform="translate(207.60,311.30) scale(0.9,1)" font-size="4.7" text-anchor="middle" stroke="#000" stroke-width="0.12">48</text>
<line x1="212.70" y1="304.20" x2="212.70" y2="305.40" stroke="#1a1a1a" stroke-width="0.55"/>
<line x1="217.80" y1="304.20" x2="217.80" y2="306.20" stroke="#1a1a1a" stroke-width="0.55"/>
<text transform="translate(217.80,311.30) scale(0.9,1)" font-size="4.7" text-anchor="middle" stroke="#000" stroke-width="0.12">60</text>
<line x1="240.50" y1="251.20" x2="240.50" y2="304.20" stroke="#1a1a1a" stroke-width="0.7"/>
<line x1="240.20" y1="303.70" x2="291.80" y2="303.70" stroke="#1a1a1a" stroke-width="0.7"/>
<line x1="237.90" y1="303.70" x2="240.50" y2="303.70" stroke="#1a1a1a" stroke-width="0.5"/>
<text transform="translate(237.20,305.30) scale(0.9,1)" font-size="4.7" text-anchor="end" stroke="#000" stroke-width="0.12">0</text>
<line x1="239.20" y1="298.45" x2="240.50" y2="298.45" stroke="#1a1a1a" stroke-width="0.5"/>
<line x1="237.90" y1="293.20" x2="240.50" y2="293.20" stroke="#1a1a1a" stroke-width="0.5"/>
<text transform="translate(237.20,294.80) scale(0.9,1)" font-size="4.7" text-anchor="end" stroke="#000" stroke-width="0.12">20</text>
<line x1="239.20" y1="287.95" x2="240.50" y2="287.95" stroke="#1a1a1a" stroke-width="0.5"/>
<line x1="237.90" y1="282.70" x2="240.50" y2="282.70" stroke="#1a1a1a" stroke-width="0.5"/>
<text transform="translate(237.20,284.30) scale(0.9,1)" font-size="4.7" text-anchor="end" stroke="#000" stroke-width="0.12">40</text>
<line x1="239.20" y1="277.45" x2="240.50" y2="277.45" stroke="#1a1a1a" stroke-width="0.5"/>
<line x1="237.90" y1="272.20" x2="240.50" y2="272.20" stroke="#1a1a1a" stroke-width="0.5"/>
<text transform="translate(237.20,273.80) scale(0.9,1)" font-size="4.7" text-anchor="end" stroke="#000" stroke-width="0.12">60</text>
<line x1="239.20" y1="266.95" x2="240.50" y2="266.95" stroke="#1a1a1a" stroke-width="0.5"/>
<line x1="237.90" y1="261.70" x2="240.50" y2="261.70" stroke="#1a1a1a" stroke-width="0.5"/>
<text transform="translate(237.20,263.30) scale(0.9,1)" font-size="4.7" text-anchor="end" stroke="#000" stroke-width="0.12">80</text>
<line x1="239.20" y1="256.45" x2="240.50" y2="256.45" stroke="#1a1a1a" stroke-width="0.5"/>
<line x1="237.90" y1="251.20" x2="240.50" y2="251.20" stroke="#1a1a1a" stroke-width="0.5"/>
<text transform="translate(237.20,252.80) scale(0.9,1)" font-size="4.7" text-anchor="end" stroke="#000" stroke-width="0.12">100</text>
<line x1="240.50" y1="303.70" x2="240.50" y2="305.70" stroke="#1a1a1a" stroke-width="0.55"/>
<text transform="translate(240.50,310.80) scale(0.9,1)" font-size="4.7" text-anchor="middle" stroke="#000" stroke-width="0.12">0</text>
<line x1="245.60" y1="303.70" x2="245.60" y2="304.90" stroke="#1a1a1a" stroke-width="0.55"/>
<line x1="250.70" y1="303.70" x2="250.70" y2="305.70" stroke="#1a1a1a" stroke-width="0.55"/>
<text transform="translate(250.70,310.80) scale(0.9,1)" font-size="4.7" text-anchor="middle" stroke="#000" stroke-width="0.12">12</text>
<line x1="255.80" y1="303.70" x2="255.80" y2="304.90" stroke="#1a1a1a" stroke-width="0.55"/>
<line x1="260.90" y1="303.70" x2="260.90" y2="305.70" stroke="#1a1a1a" stroke-width="0.55"/>
<text transform="translate(260.90,310.80) scale(0.9,1)" font-size="4.7" text-anchor="middle" stroke="#000" stroke-width="0.12">24</text>
<line x1="266.00" y1="303.70" x2="266.00" y2="304.90" stroke="#1a1a1a" stroke-width="0.55"/>
<line x1="271.10" y1="303.70" x2="271.10" y2="305.70" stroke="#1a1a1a" stroke-width="0.55"/>
<text transform="translate(271.10,310.80) scale(0.9,1)" font-size="4.7" text-anchor="middle" stroke="#000" stroke-width="0.12">36</text>
<line x1="276.20" y1="303.70" x2="276.20" y2="304.90" stroke="#1a1a1a" stroke-width="0.55"/>
<line x1="281.30" y1="303.70" x2="281.30" y2="305.70" stroke="#1a1a1a" stroke-width="0.55"/>
<text transform="translate(281.30,310.80) scale(0.9,1)" font-size="4.7" text-anchor="middle" stroke="#000" stroke-width="0.12">48</text>
<line x1="286.40" y1="303.70" x2="286.40" y2="304.90" stroke="#1a1a1a" stroke-width="0.55"/>
<line x1="291.50" y1="303.70" x2="291.50" y2="305.70" stroke="#1a1a1a" stroke-width="0.55"/>
<text transform="translate(291.50,310.80) scale(0.9,1)" font-size="4.7" text-anchor="middle" stroke="#000" stroke-width="0.12">60</text>
<line x1="315.20" y1="251.40" x2="315.20" y2="304.40" stroke="#1a1a1a" stroke-width="0.7"/>
<line x1="314.90" y1="303.90" x2="366.50" y2="303.90" stroke="#1a1a1a" stroke-width="0.7"/>
<line x1="312.60" y1="303.90" x2="315.20" y2="303.90" stroke="#1a1a1a" stroke-width="0.5"/>
<text transform="translate(311.90,305.50) scale(0.9,1)" font-size="4.7" text-anchor="end" stroke="#000" stroke-width="0.12">0</text>
<line x1="313.90" y1="298.65" x2="315.20" y2="298.65" stroke="#1a1a1a" stroke-width="0.5"/>
<line x1="312.60" y1="293.40" x2="315.20" y2="293.40" stroke="#1a1a1a" stroke-width="0.5"/>
<text transform="translate(311.90,295.00) scale(0.9,1)" font-size="4.7" text-anchor="end" stroke="#000" stroke-width="0.12">20</text>
<line x1="313.90" y1="288.15" x2="315.20" y2="288.15" stroke="#1a1a1a" stroke-width="0.5"/>
<line x1="312.60" y1="282.90" x2="315.20" y2="282.90" stroke="#1a1a1a" stroke-width="0.5"/>
<text transform="translate(311.90,284.50) scale(0.9,1)" font-size="4.7" text-anchor="end" stroke="#000" stroke-width="0.12">40</text>
<line x1="313.90" y1="277.65" x2="315.20" y2="277.65" stroke="#1a1a1a" stroke-width="0.5"/>
<line x1="312.60" y1="272.40" x2="315.20" y2="272.40" stroke="#1a1a1a" stroke-width="0.5"/>
<text transform="translate(311.90,274.00) scale(0.9,1)" font-size="4.7" text-anchor="end" stroke="#000" stroke-width="0.12">60</text>
<line x1="313.90" y1="267.15" x2="315.20" y2="267.15" stroke="#1a1a1a" stroke-width="0.5"/>
<line x1="312.60" y1="261.90" x2="315.20" y2="261.90" stroke="#1a1a1a" stroke-width="0.5"/>
<text transform="translate(311.90,263.50) scale(0.9,1)" font-size="4.7" text-anchor="end" stroke="#000" stroke-width="0.12">80</text>
<line x1="313.90" y1="256.65" x2="315.20" y2="256.65" stroke="#1a1a1a" stroke-width="0.5"/>
<line x1="312.60" y1="251.40" x2="315.20" y2="251.40" stroke="#1a1a1a" stroke-width="0.5"/>
<text transform="translate(311.90,253.00) scale(0.9,1)" font-size="4.7" text-anchor="end" stroke="#000" stroke-width="0.12">100</text>
<line x1="315.20" y1="303.90" x2="315.20" y2="305.90" stroke="#1a1a1a" stroke-width="0.55"/>
<text transform="translate(315.20,311.00) scale(0.9,1)" font-size="4.7" text-anchor="middle" stroke="#000" stroke-width="0.12">0</text>
<line x1="320.30" y1="303.90" x2="320.30" y2="305.10" stroke="#1a1a1a" stroke-width="0.55"/>
<line x1="325.40" y1="303.90" x2="325.40" y2="305.90" stroke="#1a1a1a" stroke-width="0.55"/>
<text transform="translate(325.40,311.00) scale(0.9,1)" font-size="4.7" text-anchor="middle" stroke="#000" stroke-width="0.12">12</text>
<line x1="330.50" y1="303.90" x2="330.50" y2="305.10" stroke="#1a1a1a" stroke-width="0.55"/>
<line x1="335.60" y1="303.90" x2="335.60" y2="305.90" stroke="#1a1a1a" stroke-width="0.55"/>
<text transform="translate(335.60,311.00) scale(0.9,1)" font-size="4.7" text-anchor="middle" stroke="#000" stroke-width="0.12">24</text>
<line x1="340.70" y1="303.90" x2="340.70" y2="305.10" stroke="#1a1a1a" stroke-width="0.55"/>
<line x1="345.80" y1="303.90" x2="345.80" y2="305.90" stroke="#1a1a1a" stroke-width="0.55"/>
<text transform="translate(345.80,311.00) scale(0.9,1)" font-size="4.7" text-anchor="middle" stroke="#000" stroke-width="0.12">36</text>
<line x1="350.90" y1="303.90" x2="350.90" y2="305.10" stroke="#1a1a1a" stroke-width="0.55"/>
<line x1="356.00" y1="303.90" x2="356.00" y2="305.90" stroke="#1a1a1a" stroke-width="0.55"/>
<text transform="translate(356.00,311.00) scale(0.9,1)" font-size="4.7" text-anchor="middle" stroke="#000" stroke-width="0.12">48</text>
<line x1="361.10" y1="303.90" x2="361.10" y2="305.10" stroke="#1a1a1a" stroke-width="0.55"/>
<line x1="366.20" y1="303.90" x2="366.20" y2="305.90" stroke="#1a1a1a" stroke-width="0.55"/>
<text transform="translate(366.20,311.00) scale(0.9,1)" font-size="4.7" text-anchor="middle" stroke="#000" stroke-width="0.12">60</text>
<line x1="388.00" y1="251.20" x2="388.00" y2="304.20" stroke="#1a1a1a" stroke-width="0.7"/>
<line x1="387.70" y1="303.70" x2="439.30" y2="303.70" stroke="#1a1a1a" stroke-width="0.7"/>
<line x1="385.40" y1="303.70" x2="388.00" y2="303.70" stroke="#1a1a1a" stroke-width="0.5"/>
<text transform="translate(384.70,305.30) scale(0.9,1)" font-size="4.7" text-anchor="end" stroke="#000" stroke-width="0.12">0</text>
<line x1="386.70" y1="298.45" x2="388.00" y2="298.45" stroke="#1a1a1a" stroke-width="0.5"/>
<line x1="385.40" y1="293.20" x2="388.00" y2="293.20" stroke="#1a1a1a" stroke-width="0.5"/>
<text transform="translate(384.70,294.80) scale(0.9,1)" font-size="4.7" text-anchor="end" stroke="#000" stroke-width="0.12">20</text>
<line x1="386.70" y1="287.95" x2="388.00" y2="287.95" stroke="#1a1a1a" stroke-width="0.5"/>
<line x1="385.40" y1="282.70" x2="388.00" y2="282.70" stroke="#1a1a1a" stroke-width="0.5"/>
<text transform="translate(384.70,284.30) scale(0.9,1)" font-size="4.7" text-anchor="end" stroke="#000" stroke-width="0.12">40</text>
<line x1="386.70" y1="277.45" x2="388.00" y2="277.45" stroke="#1a1a1a" stroke-width="0.5"/>
<line x1="385.40" y1="272.20" x2="388.00" y2="272.20" stroke="#1a1a1a" stroke-width="0.5"/>
<text transform="translate(384.70,273.80) scale(0.9,1)" font-size="4.7" text-anchor="end" stroke="#000" stroke-width="0.12">60</text>
<line x1="386.70" y1="266.95" x2="388.00" y2="266.95" stroke="#1a1a1a" stroke-width="0.5"/>
<line x1="385.40" y1="261.70" x2="388.00" y2="261.70" stroke="#1a1a1a" stroke-width="0.5"/>
<text transform="translate(384.70,263.30) scale(0.9,1)" font-size="4.7" text-anchor="end" stroke="#000" stroke-width="0.12">80</text>
<line x1="386.70" y1="256.45" x2="388.00" y2="256.45" stroke="#1a1a1a" stroke-width="0.5"/>
<line x1="385.40" y1="251.20" x2="388.00" y2="251.20" stroke="#1a1a1a" stroke-width="0.5"/>
<text transform="translate(384.70,252.80) scale(0.9,1)" font-size="4.7" text-anchor="end" stroke="#000" stroke-width="0.12">100</text>
<line x1="388.00" y1="303.70" x2="388.00" y2="305.70" stroke="#1a1a1a" stroke-width="0.55"/>
<text transform="translate(388.00,310.80) scale(0.9,1)" font-size="4.7" text-anchor="middle" stroke="#000" stroke-width="0.12">0</text>
<line x1="393.10" y1="303.70" x2="393.10" y2="304.90" stroke="#1a1a1a" stroke-width="0.55"/>
<line x1="398.20" y1="303.70" x2="398.20" y2="305.70" stroke="#1a1a1a" stroke-width="0.55"/>
<text transform="translate(398.20,310.80) scale(0.9,1)" font-size="4.7" text-anchor="middle" stroke="#000" stroke-width="0.12">12</text>
<line x1="403.30" y1="303.70" x2="403.30" y2="304.90" stroke="#1a1a1a" stroke-width="0.55"/>
<line x1="408.40" y1="303.70" x2="408.40" y2="305.70" stroke="#1a1a1a" stroke-width="0.55"/>
<text transform="translate(408.40,310.80) scale(0.9,1)" font-size="4.7" text-anchor="middle" stroke="#000" stroke-width="0.12">24</text>
<line x1="413.50" y1="303.70" x2="413.50" y2="304.90" stroke="#1a1a1a" stroke-width="0.55"/>
<line x1="418.60" y1="303.70" x2="418.60" y2="305.70" stroke="#1a1a1a" stroke-width="0.55"/>
<text transform="translate(418.60,310.80) scale(0.9,1)" font-size="4.7" text-anchor="middle" stroke="#000" stroke-width="0.12">36</text>
<line x1="423.70" y1="303.70" x2="423.70" y2="304.90" stroke="#1a1a1a" stroke-width="0.55"/>
<line x1="428.80" y1="303.70" x2="428.80" y2="305.70" stroke="#1a1a1a" stroke-width="0.55"/>
<text transform="translate(428.80,310.80) scale(0.9,1)" font-size="4.7" text-anchor="middle" stroke="#000" stroke-width="0.12">48</text>
<line x1="433.90" y1="303.70" x2="433.90" y2="304.90" stroke="#1a1a1a" stroke-width="0.55"/>
<line x1="439.00" y1="303.70" x2="439.00" y2="305.70" stroke="#1a1a1a" stroke-width="0.55"/>
<text transform="translate(439.00,310.80) scale(0.9,1)" font-size="4.7" text-anchor="middle" stroke="#000" stroke-width="0.12">60</text>
<line x1="463.20" y1="251.20" x2="463.20" y2="304.20" stroke="#1a1a1a" stroke-width="0.7"/>
<line x1="462.90" y1="303.70" x2="514.50" y2="303.70" stroke="#1a1a1a" stroke-width="0.7"/>
<line x1="460.60" y1="303.70" x2="463.20" y2="303.70" stroke="#1a1a1a" stroke-width="0.5"/>
<text transform="translate(459.90,305.30) scale(0.9,1)" font-size="4.7" text-anchor="end" stroke="#000" stroke-width="0.12">0</text>
<line x1="461.90" y1="298.45" x2="463.20" y2="298.45" stroke="#1a1a1a" stroke-width="0.5"/>
<line x1="460.60" y1="293.20" x2="463.20" y2="293.20" stroke="#1a1a1a" stroke-width="0.5"/>
<text transform="translate(459.90,294.80) scale(0.9,1)" font-size="4.7" text-anchor="end" stroke="#000" stroke-width="0.12">20</text>
<line x1="461.90" y1="287.95" x2="463.20" y2="287.95" stroke="#1a1a1a" stroke-width="0.5"/>
<line x1="460.60" y1="282.70" x2="463.20" y2="282.70" stroke="#1a1a1a" stroke-width="0.5"/>
<text transform="translate(459.90,284.30) scale(0.9,1)" font-size="4.7" text-anchor="end" stroke="#000" stroke-width="0.12">40</text>
<line x1="461.90" y1="277.45" x2="463.20" y2="277.45" stroke="#1a1a1a" stroke-width="0.5"/>
<line x1="460.60" y1="272.20" x2="463.20" y2="272.20" stroke="#1a1a1a" stroke-width="0.5"/>
<text transform="translate(459.90,273.80) scale(0.9,1)" font-size="4.7" text-anchor="end" stroke="#000" stroke-width="0.12">60</text>
<line x1="461.90" y1="266.95" x2="463.20" y2="266.95" stroke="#1a1a1a" stroke-width="0.5"/>
<line x1="460.60" y1="261.70" x2="463.20" y2="261.70" stroke="#1a1a1a" stroke-width="0.5"/>
<text transform="translate(459.90,263.30) scale(0.9,1)" font-size="4.7" text-anchor="end" stroke="#000" stroke-width="0.12">80</text>
<line x1="461.90" y1="256.45" x2="463.20" y2="256.45" stroke="#1a1a1a" stroke-width="0.5"/>
<line x1="460.60" y1="251.20" x2="463.20" y2="251.20" stroke="#1a1a1a" stroke-width="0.5"/>
<text transform="translate(459.90,252.80) scale(0.9,1)" font-size="4.7" text-anchor="end" stroke="#000" stroke-width="0.12">100</text>
<line x1="463.20" y1="303.70" x2="463.20" y2="305.70" stroke="#1a1a1a" stroke-width="0.55"/>
<text transform="translate(463.20,310.80) scale(0.9,1)" font-size="4.7" text-anchor="middle" stroke="#000" stroke-width="0.12">0</text>
<line x1="468.30" y1="303.70" x2="468.30" y2="304.90" stroke="#1a1a1a" stroke-width="0.55"/>
<line x1="473.40" y1="303.70" x2="473.40" y2="305.70" stroke="#1a1a1a" stroke-width="0.55"/>
<text transform="translate(473.40,310.80) scale(0.9,1)" font-size="4.7" text-anchor="middle" stroke="#000" stroke-width="0.12">12</text>
<line x1="478.50" y1="303.70" x2="478.50" y2="304.90" stroke="#1a1a1a" stroke-width="0.55"/>
<line x1="483.60" y1="303.70" x2="483.60" y2="305.70" stroke="#1a1a1a" stroke-width="0.55"/>
<text transform="translate(483.60,310.80) scale(0.9,1)" font-size="4.7" text-anchor="middle" stroke="#000" stroke-width="0.12">24</text>
<line x1="488.70" y1="303.70" x2="488.70" y2="304.90" stroke="#1a1a1a" stroke-width="0.55"/>
<line x1="493.80" y1="303.70" x2="493.80" y2="305.70" stroke="#1a1a1a" stroke-width="0.55"/>
<text transform="translate(493.80,310.80) scale(0.9,1)" font-size="4.7" text-anchor="middle" stroke="#000" stroke-width="0.12">36</text>
<line x1="498.90" y1="303.70" x2="498.90" y2="304.90" stroke="#1a1a1a" stroke-width="0.55"/>
<line x1="504.00" y1="303.70" x2="504.00" y2="305.70" stroke="#1a1a1a" stroke-width="0.55"/>
<text transform="translate(504.00,310.80) scale(0.9,1)" font-size="4.7" text-anchor="middle" stroke="#000" stroke-width="0.12">48</text>
<line x1="509.10" y1="303.70" x2="509.10" y2="304.90" stroke="#1a1a1a" stroke-width="0.55"/>
<line x1="514.20" y1="303.70" x2="514.20" y2="305.70" stroke="#1a1a1a" stroke-width="0.55"/>
<text transform="translate(514.20,310.80) scale(0.9,1)" font-size="4.7" text-anchor="middle" stroke="#000" stroke-width="0.12">60</text>
<path d="M18.6,27.9 L19.5,31.0 L21.8,34.5 L25.4,37.1 L28.9,38.5 L31.6,40.3 L34.3,41.2 L37.9,42.5 L39.6,43.8 L43.2,44.7 L46.8,45.2 L51.3,46.1 L55.7,47.0 L60.0,47.4 L69.2,47.4" fill="none" stroke="#2a2a2a" stroke-width="0.6" stroke-linejoin="round"/>
<path d="M18.6,27.9 L19.5,31.0 L21.8,34.5 L25.4,38.9 L28.9,42.5 L31.6,44.7 L34.3,46.5 L37.9,48.3 L40.5,50.1 L43.2,51.4 L46.8,52.3 L51.3,53.2 L55.7,54.1 L60.0,55.0 L69.2,55.7" fill="none" stroke="#686868" stroke-width="0.6" stroke-linejoin="round"/>
<path d="M18.6,27.9 L19.5,31.0 L21.8,34.5 L25.4,39.8 L28.9,43.4 L32.5,46.5 L36.1,48.8 L38.8,51.0 L42.3,52.8 L46.8,53.7 L55.7,55.0 L60.0,55.9 L69.2,57.3" fill="none" stroke="#2a2a2a" stroke-width="0.6" stroke-linejoin="round"/>
<path d="M18.6,27.9 L19.5,31.0 L21.8,34.5 L23.6,39.8 L25.4,44.3 L28.0,49.2 L30.7,53.2 L33.4,55.9 L36.1,58.6 L38.7,60.2 L43.7,61.8 L50.3,63.5 L58.7,64.8 L69.2,66.0" fill="none" stroke="#686868" stroke-width="0.6" stroke-linejoin="round"/>
<path d="M18.6,27.9 L19.2,32.4 L20.0,38.9 L20.8,46.9 L21.6,53.3 L22.4,58.2 L24.0,63.0 L26.4,67.8 L29.7,71.0 L33.7,72.9 L38.5,74.2 L46.1,75.1 L55.0,75.9 L69.2,76.8" fill="none" stroke="#2a2a2a" stroke-width="0.6" stroke-linejoin="round"/>
<path d="M18.6,27.9 L19.3,31.0 L21.2,32.3" fill="none" stroke="#686868" stroke-width="0.6" stroke-linejoin="round"/>
<path d="M91.9,27.7 L92.2,30.3 L94.3,31.9 L97.5,33.5 L100.0,34.8 L102.4,39.5 L104.8,43.1 L107.2,45.5 L109.5,47.3 L111.9,49.7 L114.3,52.0 L116.7,54.4 L119.7,55.6 L125.0,56.0 L129.8,56.2 L134.6,56.5 L136.9,58.0 L140.5,59.2 L142.9,60.4" fill="none" stroke="#686868" stroke-width="0.6" stroke-linejoin="round"/>
<path d="M91.9,27.7 L92.7,32.5 L94.3,35.1 L95.9,38.4 L98.1,41.1 L100.0,43.1 L103.6,44.9 L106.0,46.7 L108.3,47.9 L110.7,49.7 L113.1,52.0 L115.5,53.8 L117.9,55.6 L120.3,55.6 L125.0,56.8 L127.4,58.6 L131.0,60.4 L135.8,62.2 L140.5,62.8 L142.9,63.4" fill="none" stroke="#2a2a2a" stroke-width="0.6" stroke-linejoin="round"/>
<path d="M91.9,27.7 L92.7,34.6 L93.8,37.8 L95.9,41.6 L98.6,45.9 L100.0,47.9 L102.4,50.9 L104.8,53.8 L107.2,56.2 L109.5,58.6 L111.9,61.0 L114.3,62.8 L119.1,63.1 L126.2,63.4 L133.4,64.0 L139.3,64.6 L142.9,64.6" fill="none" stroke="#686868" stroke-width="0.6" stroke-linejoin="round"/>
<path d="M91.9,27.7 L92.3,31.5 L92.8,36.0 L93.2,41.0 L94.0,50.6 L95.5,58.2 L97.4,63.0 L101.2,66.8 L105.0,68.7 L109.5,70.5 L114.6,71.9 L124.1,73.8 L133.6,75.3 L142.9,76.3" fill="none" stroke="#2a2a2a" stroke-width="0.6" stroke-linejoin="round"/>
<path d="M166.2,27.7 L167.2,29.0 L169.6,30.2 L171.4,32.0 L173.2,34.9 L174.3,37.9 L176.1,40.3 L177.9,42.1 L179.7,43.9 L181.5,45.7 L183.9,46.3 L189.8,46.5 L195.8,46.9 L199.4,47.5 L201.8,48.6 L204.1,50.4 L207.7,51.0 L217.3,51.0" fill="none" stroke="#686868" stroke-width="0.6" stroke-linejoin="round"/>
<path d="M166.2,27.7 L167.2,29.0 L169.0,32.0 L170.8,34.3 L172.6,37.3 L174.9,39.7 L177.3,42.1 L179.7,43.9 L181.5,46.9 L183.9,48.0 L189.8,49.2 L195.8,50.4 L201.8,51.6 L206.5,52.8 L212.0,54.0 L216.7,54.9" fill="none" stroke="#2a2a2a" stroke-width="0.6" stroke-linejoin="round"/>
<path d="M166.2,27.7 L167.2,30.8 L168.4,35.5 L170.2,39.7 L172.6,43.9 L174.9,47.5 L177.9,51.0 L181.5,54.6 L185.1,57.0 L189.8,58.8 L195.8,60.0 L201.8,61.2 L209.0,62.4 L217.0,63.3" fill="none" stroke="#686868" stroke-width="0.6" stroke-linejoin="round"/>
<path d="M166.2,27.7 L167.2,33.2 L167.8,43.9 L169.0,53.4 L170.8,59.4 L173.2,63.0 L176.7,66.0 L178.0,66.9 L182.3,70.1 L187.7,72.8 L194.1,75.0 L201.7,76.6 L209.2,77.1 L216.7,77.5" fill="none" stroke="#2a2a2a" stroke-width="0.6" stroke-linejoin="round"/>
<path d="M240.5,27.7 L240.7,28.2 L244.5,29.8 L246.1,31.4 L247.7,34.1 L250.9,37.3 L255.2,41.1 L259.5,43.8 L264.9,45.9 L268.1,47.0 L291.3,47.3" fill="none" stroke="#686868" stroke-width="0.6" stroke-linejoin="round"/>
<path d="M240.5,27.7 L240.7,28.2 L244.5,30.3 L246.1,32.5 L247.7,35.7 L249.8,38.9 L253.1,42.1 L257.4,44.8 L259.5,46.5 L263.8,47.5 L268.1,48.6 L270.3,49.7 L275.7,50.5 L283.2,51.0 L287.5,51.3 L291.3,52.2" fill="none" stroke="#2a2a2a" stroke-width="0.6" stroke-linejoin="round"/>
<path d="M240.5,27.7 L241.2,30.3 L242.8,34.6 L244.5,37.8 L246.6,42.1 L248.8,45.4 L252.0,49.7 L254.1,52.9 L256.3,54.0 L259.5,56.2 L263.8,58.8 L269.2,60.7 L275.7,61.3 L283.2,62.1 L291.3,62.8" fill="none" stroke="#686868" stroke-width="0.6" stroke-linejoin="round"/>
<path d="M240.5,27.7 L240.7,28.7 L241.6,39.1 L242.6,48.7 L243.4,52.8 L244.5,56.3 L247.3,62.0 L251.1,66.8 L254.5,69.5 L258.8,71.5 L268.3,73.4 L279.7,75.3 L291.1,75.9" fill="none" stroke="#2a2a2a" stroke-width="0.6" stroke-linejoin="round"/>
<path d="M314.8,27.7 L315.2,33.0 L320.6,36.8 L326.0,41.1 L329.2,43.2 L332.5,44.8 L336.8,46.5 L340.0,49.1 L342.1,50.5 L349.7,50.8 L352.9,51.8 L357.2,52.4 L359.4,54.2 L365.3,55.1" fill="none" stroke="#686868" stroke-width="0.6" stroke-linejoin="round"/>
<path d="M314.8,27.7 L315.2,33.0 L320.6,36.8 L326.0,42.1 L329.2,45.4 L333.5,49.1 L336.8,51.8 L340.0,52.7 L347.5,52.9 L349.7,54.0 L357.2,55.6 L361.5,56.7 L365.3,57.4" fill="none" stroke="#2a2a2a" stroke-width="0.6" stroke-linejoin="round"/>
<path d="M314.8,27.7 L315.8,33.7 L317.6,37.9 L319.4,42.1 L321.2,45.7 L323.5,49.2 L325.9,52.2 L329.5,55.2 L333.1,57.6 L337.8,60.0 L343.8,61.8 L349.8,62.7 L360.0,63.2 L365.1,63.9" fill="none" stroke="#686868" stroke-width="0.6" stroke-linejoin="round"/>
<path d="M314.8,27.7 L315.8,34.3 L316.4,41.5 L317.6,49.8 L319.4,57.0 L321.2,62.9 L323.5,66.5 L327.1,69.6 L332.5,72.8 L338.9,75.0 L346.4,76.4 L355.1,77.1 L365.3,77.5" fill="none" stroke="#2a2a2a" stroke-width="0.6" stroke-linejoin="round"/>
<path d="M388.3,27.7 L388.7,29.5 L389.2,32.0 L391.6,34.3 L394.0,36.7 L396.3,39.7 L398.7,41.5 L403.5,43.3 L409.5,45.7 L415.4,47.5 L421.4,48.6 L423.8,49.2 L434.0,49.2 L439.3,50.2" fill="none" stroke="#686868" stroke-width="0.6" stroke-linejoin="round"/>
<path d="M388.3,27.7 L388.7,30.0 L389.2,33.2 L391.6,36.7 L394.0,40.3 L396.3,45.1 L398.7,48.6 L401.1,51.6 L404.7,54.0 L408.3,55.2 L414.2,57.0 L421.4,58.8 L428.5,60.6 L434.0,61.6 L439.3,62.0" fill="none" stroke="#2a2a2a" stroke-width="0.6" stroke-linejoin="round"/>
<path d="M388.3,27.7 L388.7,31.0 L389.2,34.3 L391.0,39.1 L392.8,43.3 L394.6,46.9 L396.3,49.8 L398.7,53.4 L401.1,55.8 L404.7,58.8 L409.5,60.6 L414.2,61.2 L421.4,62.4 L428.5,63.5 L434.0,64.1 L439.3,64.5" fill="none" stroke="#686868" stroke-width="0.6" stroke-linejoin="round"/>
<path d="M388.3,27.7 L388.8,32.0 L389.2,36.7 L389.8,43.9 L390.4,51.0 L391.6,58.2 L393.4,64.1 L394.6,66.0 L396.8,67.5 L401.1,70.7 L406.5,73.9 L414.0,75.0 L423.7,75.5 L431.2,76.1 L439.3,76.6" fill="none" stroke="#2a2a2a" stroke-width="0.6" stroke-linejoin="round"/>
<path d="M463.1,27.7 L464.2,33.5 L467.5,40.0 L470.7,46.5 L475.0,49.7 L478.8,53.4 L480.4,56.2 L482.5,58.8 L484.7,59.9 L486.8,61.5 L498.7,61.5 L499.8,63.1 L500.8,64.8 L514.0,65.0" fill="none" stroke="#2a2a2a" stroke-width="0.6" stroke-linejoin="round"/>
<path d="M463.1,27.7 L463.5,28.5 L465.6,35.5 L468.0,41.5 L470.3,47.5 L472.1,53.4 L473.9,55.8 L476.3,57.6 L478.7,60.0 L480.5,63.0 L481.7,65.5 L482.5,65.8 L485.8,68.0 L489.0,71.2 L491.1,72.8 L510.5,72.8 L511.6,74.5 L514.0,76.1" fill="none" stroke="#686868" stroke-width="0.6" stroke-linejoin="round"/>
<path d="M463.1,27.7 L463.6,29.6 L464.6,39.1 L466.5,50.6 L468.4,60.1 L471.2,67.7 L474.1,70.6 L480.8,72.5 L486.5,75.3 L494.1,76.9 L504.1,77.3 L513.6,78.2" fill="none" stroke="#2a2a2a" stroke-width="0.6" stroke-linejoin="round"/>
<path d="M18.7,138.0 L22.0,141.0 L24.5,144.3 L27.0,146.0 L29.5,148.5 L32.0,151.0 L32.8,151.8 L38.7,151.8 L42.0,153.5 L45.3,154.3 L48.7,155.7 L52.0,156.3 L53.7,157.2 L70.0,157.2" fill="none" stroke="#2a2a2a" stroke-width="0.6" stroke-linejoin="round"/>
<path d="M18.7,138.0 L19.5,150.0 L20.3,162.0 L21.0,168.5 L24.1,172.9 L26.8,176.5 L28.6,180.1 L30.4,182.3 L33.1,186.3 L50.9,186.3 L51.8,189.0 L52.0,189.7" fill="none" stroke="#2a2a2a" stroke-width="0.6" stroke-linejoin="round"/>
<path d="M92.0,138.0 L93.0,141.0 L94.2,146.0 L95.8,149.3 L97.5,152.7 L99.2,155.2 L101.7,156.8 L104.2,159.3 L106.7,161.8 L109.2,163.5 L111.7,164.3 L115.0,166.0 L118.3,168.5 L121.7,171.0 L125.0,172.7 L130.0,174.0 L133.3,176.0 L140.0,176.3 L143.3,176.3" fill="none" stroke="#2a2a2a" stroke-width="0.6" stroke-linejoin="round"/>
<path d="M166.3,138.0 L168.2,141.8 L170.7,145.2 L174.0,147.7 L174.8,151.0 L176.5,155.2 L179.0,157.7 L180.7,159.3 L184.8,159.3 L186.5,160.7 L199.8,160.7 L201.5,163.0 L217.3,163.0" fill="none" stroke="#686868" stroke-width="0.6" stroke-linejoin="round"/>
<path d="M166.3,138.0 L167.3,146.0 L168.2,156.0 L169.0,164.3 L170.7,171.0 L173.2,175.2 L176.5,177.7 L179.0,180.2 L180.7,181.8 L185.7,183.5 L217.3,183.8" fill="none" stroke="#2a2a2a" stroke-width="0.6" stroke-linejoin="round"/>
<path d="M240.7,137.9 L244.5,139.2 L248.8,139.8 L252.0,141.4 L255.2,143.5 L257.4,145.7 L258.5,148.4 L259.5,148.9 L291.3,148.9" fill="none" stroke="#686868" stroke-width="0.6" stroke-linejoin="round"/>
<path d="M240.7,137.9 L243.4,141.4 L246.1,144.6 L248.8,147.3 L250.9,150.0 L252.0,153.2 L254.1,154.8 L257.4,155.4 L259.5,157.0 L261.7,158.6 L263.8,161.8 L264.9,162.4 L271.4,162.4 L273.5,164.5 L291.3,164.9" fill="none" stroke="#2a2a2a" stroke-width="0.6" stroke-linejoin="round"/>
<path d="M240.7,137.9 L241.2,140.3 L244.5,146.8 L247.7,151.1 L250.9,154.3 L254.1,157.5 L257.4,160.8 L259.5,163.4 L260.6,164.0 L262.8,165.6 L269.2,166.2 L271.4,167.2 L273.5,168.5 L291.3,168.8" fill="none" stroke="#686868" stroke-width="0.6" stroke-linejoin="round"/>
<path d="M240.7,137.9 L241.2,142.5 L243.4,155.4 L245.0,162.9 L246.6,165.6 L248.8,167.2 L250.9,169.9 L254.1,172.1 L257.4,174.8 L260.6,177.5 L263.8,178.5 L270.3,179.1 L276.8,179.6 L283.2,180.1 L286.4,181.0 L291.3,181.0" fill="none" stroke="#2a2a2a" stroke-width="0.6" stroke-linejoin="round"/>
<path d="M314.9,138.7 L315.4,142.5 L315.8,143.5 L320.6,144.1 L322.8,145.7 L324.9,148.9 L326.5,151.1 L331.4,151.3 L365.8,151.6" fill="none" stroke="#2a2a2a" stroke-width="0.6" stroke-linejoin="round"/>
<path d="M314.9,138.7 L315.4,142.5 L315.8,143.5 L321.7,144.6 L323.8,146.2 L329.2,146.2 L330.8,147.8 L332.5,151.1 L334.6,153.2 L336.8,155.4 L340.0,157.3 L361.5,157.3 L363.7,158.6 L365.8,159.1" fill="none" stroke="#686868" stroke-width="0.6" stroke-linejoin="round"/>
<path d="M314.9,138.7 L316.3,142.5 L317.4,152.1 L318.5,160.8 L319.0,164.0 L320.6,165.6 L322.8,167.8 L324.4,168.5 L333.5,168.5 L334.6,170.5 L335.1,173.1 L336.8,173.5 L365.8,173.7" fill="none" stroke="#2a2a2a" stroke-width="0.6" stroke-linejoin="round"/>
<path d="M388.5,138.7 L389.3,144.4 L397.2,144.4 L404.9,145.7 L412.5,147.2 L420.1,148.2 L429.6,149.1 L439.3,150.1" fill="none" stroke="#2a2a2a" stroke-width="0.6" stroke-linejoin="round"/>
<path d="M388.5,138.7 L389.3,144.4 L393.4,144.4 L399.1,145.0 L404.9,146.9 L412.5,148.2 L423.9,149.1 L439.1,150.5" fill="none" stroke="#2a2a2a" stroke-width="0.6" stroke-linejoin="round"/>
<path d="M388.5,138.7 L389.0,144.6 L390.3,147.8 L392.5,151.1 L396.8,152.1 L407.5,153.0 L418.3,154.1 L429.1,154.5 L439.5,154.8" fill="none" stroke="#686868" stroke-width="0.6" stroke-linejoin="round"/>
<path d="M388.5,138.7 L389.0,145.7 L389.7,155.0 L390.3,161.0 L390.8,164.0 L393.5,165.6 L396.8,166.4 L400.0,167.4 L407.5,167.8 L409.7,168.3 L439.5,168.5" fill="none" stroke="#2a2a2a" stroke-width="0.6" stroke-linejoin="round"/>
<path d="M463.3,137.9 L464.0,141.5 L465.1,147.2 L466.5,153.0 L468.4,158.7 L470.3,163.4 L473.1,167.2 L476.0,170.1 L478.9,173.0 L481.7,175.8 L483.6,178.7 L486.5,181.5 L488.4,182.5 L496.0,182.5 L498.9,183.4 L501.7,185.3 L504.6,186.3 L505.9,186.3" fill="none" stroke="#2a2a2a" stroke-width="0.6" stroke-linejoin="round"/>
<path d="M18.9,251.4 L19.7,251.4 L22.4,254.4 L25.1,257.6 L27.8,259.2 L29.9,260.3 L31.5,264.1 L33.7,268.4 L35.8,272.1 L38.5,275.9 L39.6,278.6 L69.7,278.9" fill="none" stroke="#2a2a2a" stroke-width="0.6" stroke-linejoin="round"/>
<path d="M18.9,251.4 L19.8,253.0 L21.0,257.2 L22.8,263.1 L24.6,267.9 L26.3,272.6 L28.7,276.8 L31.1,280.4 L33.5,283.4 L35.9,285.8 L38.3,287.5 L41.8,288.7 L46.6,289.3 L51.4,289.7 L54.7,290.5 L62.2,291.2 L69.7,291.5" fill="none" stroke="#686868" stroke-width="0.6" stroke-linejoin="round"/>
<path d="M18.9,251.4 L19.8,253.6 L20.4,259.5 L21.3,266.7 L22.5,273.8 L24.0,279.8 L25.7,284.6 L27.5,288.1 L29.9,290.5 L33.1,293.1 L37.5,295.8 L41.8,298.5 L47.1,300.1 L54.7,300.9 L69.7,301.2" fill="none" stroke="#2a2a2a" stroke-width="0.6" stroke-linejoin="round"/>
<path d="M92.0,251.5 L94.2,254.8 L95.8,259.0 L97.5,263.2 L99.2,266.5 L101.7,268.2 L104.2,270.7 L106.7,273.2 L109.2,275.7 L111.7,278.2 L114.2,279.3 L116.7,281.5 L119.2,284.0 L121.7,285.7 L128.3,286.0 L130.8,287.7 L133.3,289.0 L135.0,292.3 L136.7,295.7 L138.3,297.3 L143.0,297.3" fill="none" stroke="#2a2a2a" stroke-width="0.6" stroke-linejoin="round"/>
<path d="M166.7,251.4 L174.8,252.2 L185.5,253.1 L196.3,253.8 L207.1,254.6 L217.8,255.7" fill="none" stroke="#2a2a2a" stroke-width="0.6" stroke-linejoin="round"/>
<path d="M166.7,251.4 L170.5,253.3 L174.8,254.4 L185.5,256.0 L196.3,257.6 L207.1,259.2 L217.8,260.3" fill="none" stroke="#686868" stroke-width="0.6" stroke-linejoin="round"/>
<path d="M166.7,251.4 L167.8,253.3 L170.5,255.5 L173.7,258.7 L176.9,261.9 L180.1,264.1 L183.4,266.2 L186.6,267.8 L188.8,268.4 L189.8,270.0 L192.0,271.6 L195.2,272.1 L197.4,273.8 L200.6,274.8 L202.8,275.2 L217.8,275.2" fill="none" stroke="#686868" stroke-width="0.6" stroke-linejoin="round"/>
<path d="M166.7,251.4 L167.8,253.3 L171.5,258.7 L174.8,263.0 L178.0,267.3 L181.2,270.5 L184.5,273.8 L187.7,276.4 L190.9,277.0 L196.3,278.6 L201.7,280.2 L207.1,281.5 L212.4,282.9 L217.8,284.0" fill="none" stroke="#2a2a2a" stroke-width="0.6" stroke-linejoin="round"/>
<path d="M166.7,251.4 L167.8,254.4 L170.5,259.8 L173.7,266.2 L176.9,272.7 L180.1,277.0 L181.2,277.8 L184.5,280.2 L187.7,282.9 L192.0,285.1 L196.3,286.7 L201.7,288.3 L209.2,289.9 L217.8,291.0" fill="none" stroke="#686868" stroke-width="0.6" stroke-linejoin="round"/>
<path d="M166.7,251.4 L167.2,255.5 L169.4,263.0 L171.5,270.5 L173.1,277.0 L174.8,279.7 L178.0,283.5 L181.2,287.2 L184.5,290.5 L188.8,293.1 L194.1,295.3 L200.6,296.4 L209.2,297.2 L217.8,298.0" fill="none" stroke="#2a2a2a" stroke-width="0.6" stroke-linejoin="round"/>
<path d="M166.7,251.4 L167.8,252.8" fill="none" stroke="#2a2a2a" stroke-width="0.6" stroke-linejoin="round"/>
<path d="M240.4,251.4 L244.5,253.3 L250.9,254.4 L257.4,255.5 L260.6,257.6 L264.9,259.2 L270.3,260.3 L275.7,261.1 L283.2,261.9 L291.5,262.8" fill="none" stroke="#2a2a2a" stroke-width="0.6" stroke-linejoin="round"/>
<path d="M240.4,251.4 L244.5,253.8 L248.8,256.0 L254.1,258.1 L259.5,260.3 L264.9,261.9 L270.3,263.0 L278.9,264.1 L285.4,264.6 L291.5,265.4" fill="none" stroke="#686868" stroke-width="0.6" stroke-linejoin="round"/>
<path d="M240.4,251.4 L241.2,253.3 L245.5,256.5 L248.8,260.8 L252.0,265.1 L256.3,268.4 L260.6,270.5 L264.9,272.7 L270.3,274.8 L275.7,275.9 L281.1,276.8 L291.5,277.9" fill="none" stroke="#2a2a2a" stroke-width="0.6" stroke-linejoin="round"/>
<path d="M240.4,251.4 L241.2,254.4 L243.4,258.7 L246.6,265.1 L249.8,270.5 L253.1,274.8 L256.3,277.0 L259.5,278.6 L263.8,280.8 L268.1,282.2 L272.4,283.2 L291.5,283.2" fill="none" stroke="#686868" stroke-width="0.6" stroke-linejoin="round"/>
<path d="M240.4,251.4 L241.2,255.5 L242.8,261.9 L244.5,268.4 L246.6,273.8 L248.8,277.0 L250.9,280.2 L254.1,283.5 L257.4,286.7 L259.5,287.8 L263.8,289.4 L268.1,290.8 L272.4,292.1 L276.8,293.1 L291.5,293.1" fill="none" stroke="#2a2a2a" stroke-width="0.6" stroke-linejoin="round"/>
<path d="M315.2,251.7 L322.8,253.1 L333.5,253.8 L344.3,254.2 L355.1,254.6 L361.5,254.9 L365.8,255.2" fill="none" stroke="#2a2a2a" stroke-width="0.6" stroke-linejoin="round"/>
<path d="M315.2,251.7 L320.6,254.4 L328.1,256.0 L338.9,258.1 L349.7,259.8 L365.8,261.1" fill="none" stroke="#686868" stroke-width="0.6" stroke-linejoin="round"/>
<path d="M315.2,251.7 L316.3,253.3 L320.6,257.6 L323.8,260.8 L326.0,263.0 L327.1,265.7 L329.2,266.2 L333.5,266.2 L335.1,268.4 L335.7,270.0 L337.8,270.3 L365.8,270.5" fill="none" stroke="#686868" stroke-width="0.6" stroke-linejoin="round"/>
<path d="M315.2,251.7 L316.3,254.4 L319.5,259.8 L322.8,266.2 L326.0,271.6 L329.2,274.8 L332.5,277.0 L336.8,278.3 L342.1,279.7 L347.5,280.8 L352.9,281.5 L358.3,282.9 L365.8,283.2" fill="none" stroke="#2a2a2a" stroke-width="0.6" stroke-linejoin="round"/>
<path d="M315.2,251.7 L316.3,255.5 L318.5,261.9 L320.6,268.4 L322.8,272.7 L324.9,277.0 L326.0,277.0 L329.2,280.8 L333.5,285.1 L338.9,287.8 L344.3,289.4 L352.9,291.5 L359.4,292.1 L365.8,294.2" fill="none" stroke="#686868" stroke-width="0.6" stroke-linejoin="round"/>
<path d="M315.2,251.7 L315.8,257.6 L316.8,265.1 L317.9,270.5 L319.0,277.0 L319.5,277.0 L321.7,281.3 L324.9,286.7 L329.2,290.5 L333.5,292.6 L339.9,294.2 L346.4,296.4 L352.9,297.2 L365.8,297.2" fill="none" stroke="#2a2a2a" stroke-width="0.6" stroke-linejoin="round"/>
<path d="M388.0,251.5 L389.3,255.7 L391.8,259.0 L395.2,261.5 L398.5,263.2 L402.7,264.0 L406.0,265.7 L411.0,267.3 L416.0,268.2 L422.7,269.0 L429.3,269.8 L432.7,271.5 L439.0,271.5" fill="none" stroke="#686868" stroke-width="0.6" stroke-linejoin="round"/>
<path d="M388.0,251.5 L389.3,259.0 L391.0,264.0 L393.5,267.3 L395.2,269.8 L396.8,272.3 L399.3,276.5 L402.7,278.2 L407.7,278.7 L411.0,279.8 L414.3,280.7 L416.0,283.2 L419.3,284.0 L421.8,284.8 L423.5,285.7 L439.0,285.7" fill="none" stroke="#2a2a2a" stroke-width="0.6" stroke-linejoin="round"/>
<path d="M388.1,251.5 L388.8,257.2 L389.4,265.5 L390.0,272.8 L391.1,278.4 L392.8,282.9 L395.0,286.9 L397.3,289.1 L399.5,290.3 L402.9,292.0 L406.3,293.1 L408.6,294.2 L414.0,294.8 L439.0,295.3" fill="none" stroke="#686868" stroke-width="0.6" stroke-linejoin="round"/>
<path d="M388.1,251.5 L388.5,257.0 L388.8,263.0 L389.1,271.0 L389.4,277.3 L390.0,286.3 L391.1,292.0 L392.8,295.4 L395.0,297.6 L398.4,298.7 L402.9,299.6 L408.6,299.9 L414.0,300.2 L425.0,300.8 L439.0,301.8" fill="none" stroke="#2a2a2a" stroke-width="0.6" stroke-linejoin="round"/>
<path d="M463.0,251.5 L464.3,254.8 L466.0,259.0 L467.7,264.0 L469.3,268.2 L471.8,269.3 L474.3,270.3 L477.7,271.2 L482.7,272.3 L487.7,272.7 L491.0,274.0 L494.3,275.3 L496.0,277.0 L514.0,277.0" fill="none" stroke="#686868" stroke-width="0.6" stroke-linejoin="round"/>
<path d="M463.0,251.5 L464.3,255.7 L466.0,262.3 L467.7,269.0 L470.2,273.2 L473.5,276.5 L476.8,279.0 L479.3,280.3 L481.8,281.0 L485.2,282.3 L487.7,284.0 L507.7,284.0 L510.2,285.7 L511.8,287.3 L514.0,289.0" fill="none" stroke="#686868" stroke-width="0.6" stroke-linejoin="round"/>
<path d="M463.0,251.5 L464.0,262.3 L465.2,274.0 L466.8,280.7 L469.3,285.7 L471.8,290.7 L473.5,297.3 L476.0,299.8 L479.3,301.5 L482.7,302.0 L486.0,302.7" fill="none" stroke="#2a2a2a" stroke-width="0.6" stroke-linejoin="round"/>
<path d="M67.50,46.20L70.90,46.20L69.20,49.00Z" fill="#000"/>
<path d="M67.80,56.75L70.60,56.75L69.20,54.30Z" fill="#fff" stroke="#555" stroke-width="0.6"/>
<circle cx="69.20" cy="57.30" r="1.45" fill="#000"/>
<circle cx="69.20" cy="66.00" r="1.2" fill="#fff" stroke="#555" stroke-width="0.65"/>
<circle cx="69.20" cy="76.80" r="1.45" fill="#000"/>
<circle cx="21.20" cy="32.30" r="1.2" fill="#fff" stroke="#555" stroke-width="0.65"/>
<path d="M141.50,61.45L144.30,61.45L142.90,59.00Z" fill="#fff" stroke="#555" stroke-width="0.6"/>
<circle cx="142.90" cy="63.40" r="1.45" fill="#000"/>
<circle cx="142.90" cy="64.60" r="1.2" fill="#fff" stroke="#555" stroke-width="0.65"/>
<circle cx="142.90" cy="76.30" r="1.45" fill="#000"/>
<path d="M215.90,52.05L218.70,52.05L217.30,49.60Z" fill="#fff" stroke="#555" stroke-width="0.6"/>
<circle cx="216.70" cy="54.90" r="1.45" fill="#000"/>
<circle cx="217.00" cy="63.30" r="1.2" fill="#fff" stroke="#555" stroke-width="0.65"/>
<circle cx="216.70" cy="77.50" r="1.45" fill="#000"/>
<path d="M289.90,48.35L292.70,48.35L291.30,45.90Z" fill="#fff" stroke="#555" stroke-width="0.6"/>
<circle cx="291.30" cy="52.20" r="1.45" fill="#000"/>
<circle cx="291.30" cy="62.80" r="1.2" fill="#fff" stroke="#555" stroke-width="0.65"/>
<circle cx="291.10" cy="75.90" r="1.45" fill="#000"/>
<path d="M363.90,56.15L366.70,56.15L365.30,53.70Z" fill="#fff" stroke="#555" stroke-width="0.6"/>
<circle cx="365.30" cy="57.40" r="1.45" fill="#000"/>
<circle cx="365.10" cy="63.90" r="1.2" fill="#fff" stroke="#555" stroke-width="0.65"/>
<circle cx="365.30" cy="77.50" r="1.45" fill="#000"/>
<circle cx="439.30" cy="50.20" r="1.2" fill="#fff" stroke="#555" stroke-width="0.65"/>
<circle cx="439.30" cy="62.00" r="1.45" fill="#000"/>
<circle cx="439.30" cy="64.50" r="1.2" fill="#fff" stroke="#555" stroke-width="0.65"/>
<circle cx="439.30" cy="76.60" r="1.45" fill="#000"/>
<circle cx="514.00" cy="65.00" r="1.45" fill="#000"/>
<rect x="512.90" y="75.00" width="2.2" height="2.2" fill="#fff" stroke="#555" stroke-width="0.6"/>
<circle cx="513.60" cy="78.20" r="1.45" fill="#000"/>
<path d="M68.30,156.00L71.70,156.00L70.00,158.80Z" fill="#000"/>
<circle cx="52.00" cy="189.70" r="1.45" fill="#000"/>
<circle cx="143.30" cy="176.30" r="1.45" fill="#000"/>
<circle cx="217.30" cy="163.00" r="1.2" fill="#fff" stroke="#555" stroke-width="0.65"/>
<circle cx="217.30" cy="183.80" r="1.45" fill="#000"/>
<circle cx="291.30" cy="148.90" r="1.2" fill="#fff" stroke="#555" stroke-width="0.65"/>
<circle cx="291.30" cy="164.90" r="1.45" fill="#000"/>
<circle cx="291.30" cy="168.80" r="1.2" fill="#fff" stroke="#555" stroke-width="0.65"/>
<circle cx="291.30" cy="181.00" r="1.45" fill="#000"/>
<circle cx="365.80" cy="151.60" r="1.45" fill="#000"/>
<circle cx="365.80" cy="159.10" r="1.2" fill="#fff" stroke="#555" stroke-width="0.65"/>
<circle cx="365.80" cy="173.70" r="1.45" fill="#000"/>
<circle cx="439.30" cy="150.10" r="1.45" fill="#000"/>
<circle cx="439.50" cy="154.80" r="1.2" fill="#fff" stroke="#555" stroke-width="0.65"/>
<circle cx="439.50" cy="168.50" r="1.45" fill="#000"/>
<circle cx="505.90" cy="186.30" r="1.45" fill="#000"/>
<circle cx="69.70" cy="278.90" r="1.45" fill="#000"/>
<circle cx="69.70" cy="291.50" r="1.2" fill="#fff" stroke="#555" stroke-width="0.65"/>
<circle cx="69.70" cy="301.20" r="1.45" fill="#000"/>
<circle cx="143.00" cy="297.30" r="1.45" fill="#000"/>
<circle cx="217.80" cy="255.70" r="1.45" fill="#000"/>
<circle cx="217.80" cy="260.30" r="1.2" fill="#fff" stroke="#555" stroke-width="0.65"/>
<circle cx="217.80" cy="275.20" r="1.2" fill="#fff" stroke="#555" stroke-width="0.65"/>
<circle cx="217.80" cy="284.00" r="1.45" fill="#000"/>
<circle cx="217.80" cy="291.00" r="1.2" fill="#fff" stroke="#555" stroke-width="0.65"/>
<circle cx="217.80" cy="298.00" r="1.45" fill="#000"/>
<circle cx="167.80" cy="252.80" r="1.45" fill="#000"/>
<circle cx="291.50" cy="262.80" r="1.45" fill="#000"/>
<circle cx="291.50" cy="265.40" r="1.2" fill="#fff" stroke="#555" stroke-width="0.65"/>
<circle cx="291.50" cy="277.90" r="1.45" fill="#000"/>
<circle cx="291.50" cy="283.20" r="1.2" fill="#fff" stroke="#555" stroke-width="0.65"/>
<circle cx="291.50" cy="293.10" r="1.45" fill="#000"/>
<circle cx="365.80" cy="255.20" r="1.45" fill="#000"/>
<circle cx="365.80" cy="261.10" r="1.2" fill="#fff" stroke="#555" stroke-width="0.65"/>
<circle cx="365.80" cy="270.50" r="1.2" fill="#fff" stroke="#555" stroke-width="0.65"/>
<circle cx="365.80" cy="283.20" r="1.45" fill="#000"/>
<circle cx="365.80" cy="294.20" r="1.2" fill="#fff" stroke="#555" stroke-width="0.65"/>
<circle cx="365.80" cy="297.20" r="1.45" fill="#000"/>
<path d="M437.60,272.55L440.40,272.55L439.00,270.10Z" fill="#fff" stroke="#555" stroke-width="0.6"/>
<circle cx="439.00" cy="285.70" r="1.45" fill="#000"/>
<circle cx="439.00" cy="295.30" r="1.2" fill="#fff" stroke="#555" stroke-width="0.65"/>
<circle cx="439.00" cy="301.80" r="1.45" fill="#000"/>
<circle cx="514.00" cy="277.00" r="1.2" fill="#fff" stroke="#555" stroke-width="0.65"/>
<rect x="512.90" y="287.90" width="2.2" height="2.2" fill="#fff" stroke="#555" stroke-width="0.6"/>
<circle cx="486.00" cy="302.70" r="1.45" fill="#000"/>
<line x1="33.8" y1="319.6" x2="255.8" y2="319.6" stroke="#999" stroke-width="1.0"/>
<line x1="277" y1="319.6" x2="498.8" y2="319.6" stroke="#999" stroke-width="1.0"/>
<text x="266.8" y="321.4" font-size="5.45" text-anchor="middle" stroke="#000" stroke-width="0.1">Months</text>
<text x="100.9" y="333.6" font-size="5.3" stroke="#000" stroke-width="0.1">Age groups:</text>
<line x1="136.7" y1="331.6" x2="149.3" y2="331.6" stroke="#686868" stroke-width="0.8"/>
<path d="M143.00,330.10L144.50,331.60L143.00,333.10L141.50,331.60Z" fill="#fff" stroke="#666" stroke-width="0.55"/>
<text x="150.20" y="333.6" font-size="5.5" stroke="#000" stroke-width="0.1">&lt;1</text>
<line x1="171.6" y1="331.6" x2="184.6" y2="331.6" stroke="#2a2a2a" stroke-width="0.8"/>
<circle cx="178.10" cy="331.6" r="1.15" fill="#000"/>
<text x="185.50" y="333.6" font-size="5.5" stroke="#000" stroke-width="0.1">1-4</text>
<line x1="208.8" y1="331.6" x2="221.4" y2="331.6" stroke="#2a2a2a" stroke-width="0.8"/>
<path d="M213.40,330.40L216.80,330.40L215.10,333.20Z" fill="#000"/>
<text x="222.30" y="333.6" font-size="5.5" stroke="#000" stroke-width="0.1">&lt;5</text>
<line x1="244.5" y1="331.6" x2="257.2" y2="331.6" stroke="#686868" stroke-width="0.8"/>
<circle cx="250.85" cy="331.60" r="1.2" fill="#fff" stroke="#555" stroke-width="0.65"/>
<text x="258.10" y="333.6" font-size="5.5" stroke="#000" stroke-width="0.1">5-19</text>
<line x1="284.5" y1="331.6" x2="297.0" y2="331.6" stroke="#686868" stroke-width="0.8"/>
<path d="M289.75,330.60L291.75,332.60M289.75,332.60L291.75,330.60" stroke="#777" stroke-width="0.5"/>
<text x="297.90" y="333.6" font-size="5.5" stroke="#000" stroke-width="0.1">&lt;20</text>
<line x1="323.5" y1="331.6" x2="335.6" y2="331.6" stroke="#2a2a2a" stroke-width="0.8"/>
<circle cx="329.55" cy="331.60" r="1.45" fill="#000"/>
<text x="336.50" y="333.6" font-size="5.5" stroke="#000" stroke-width="0.1">20-39</text>
<line x1="366.9" y1="331.6" x2="378.8" y2="331.6" stroke="#686868" stroke-width="0.8"/>
<circle cx="372.85" cy="331.60" r="1.2" fill="#fff" stroke="#555" stroke-width="0.65"/>
<text x="379.70" y="333.6" font-size="5.5" stroke="#000" stroke-width="0.1">40-59</text>
<line x1="410.2" y1="331.6" x2="422.2" y2="331.6" stroke="#2a2a2a" stroke-width="0.8"/>
<circle cx="416.20" cy="331.60" r="1.45" fill="#000"/>
<text x="423.10" y="333.6" font-size="5.5" stroke="#000" stroke-width="0.1">60+</text>
</svg></body></html>
